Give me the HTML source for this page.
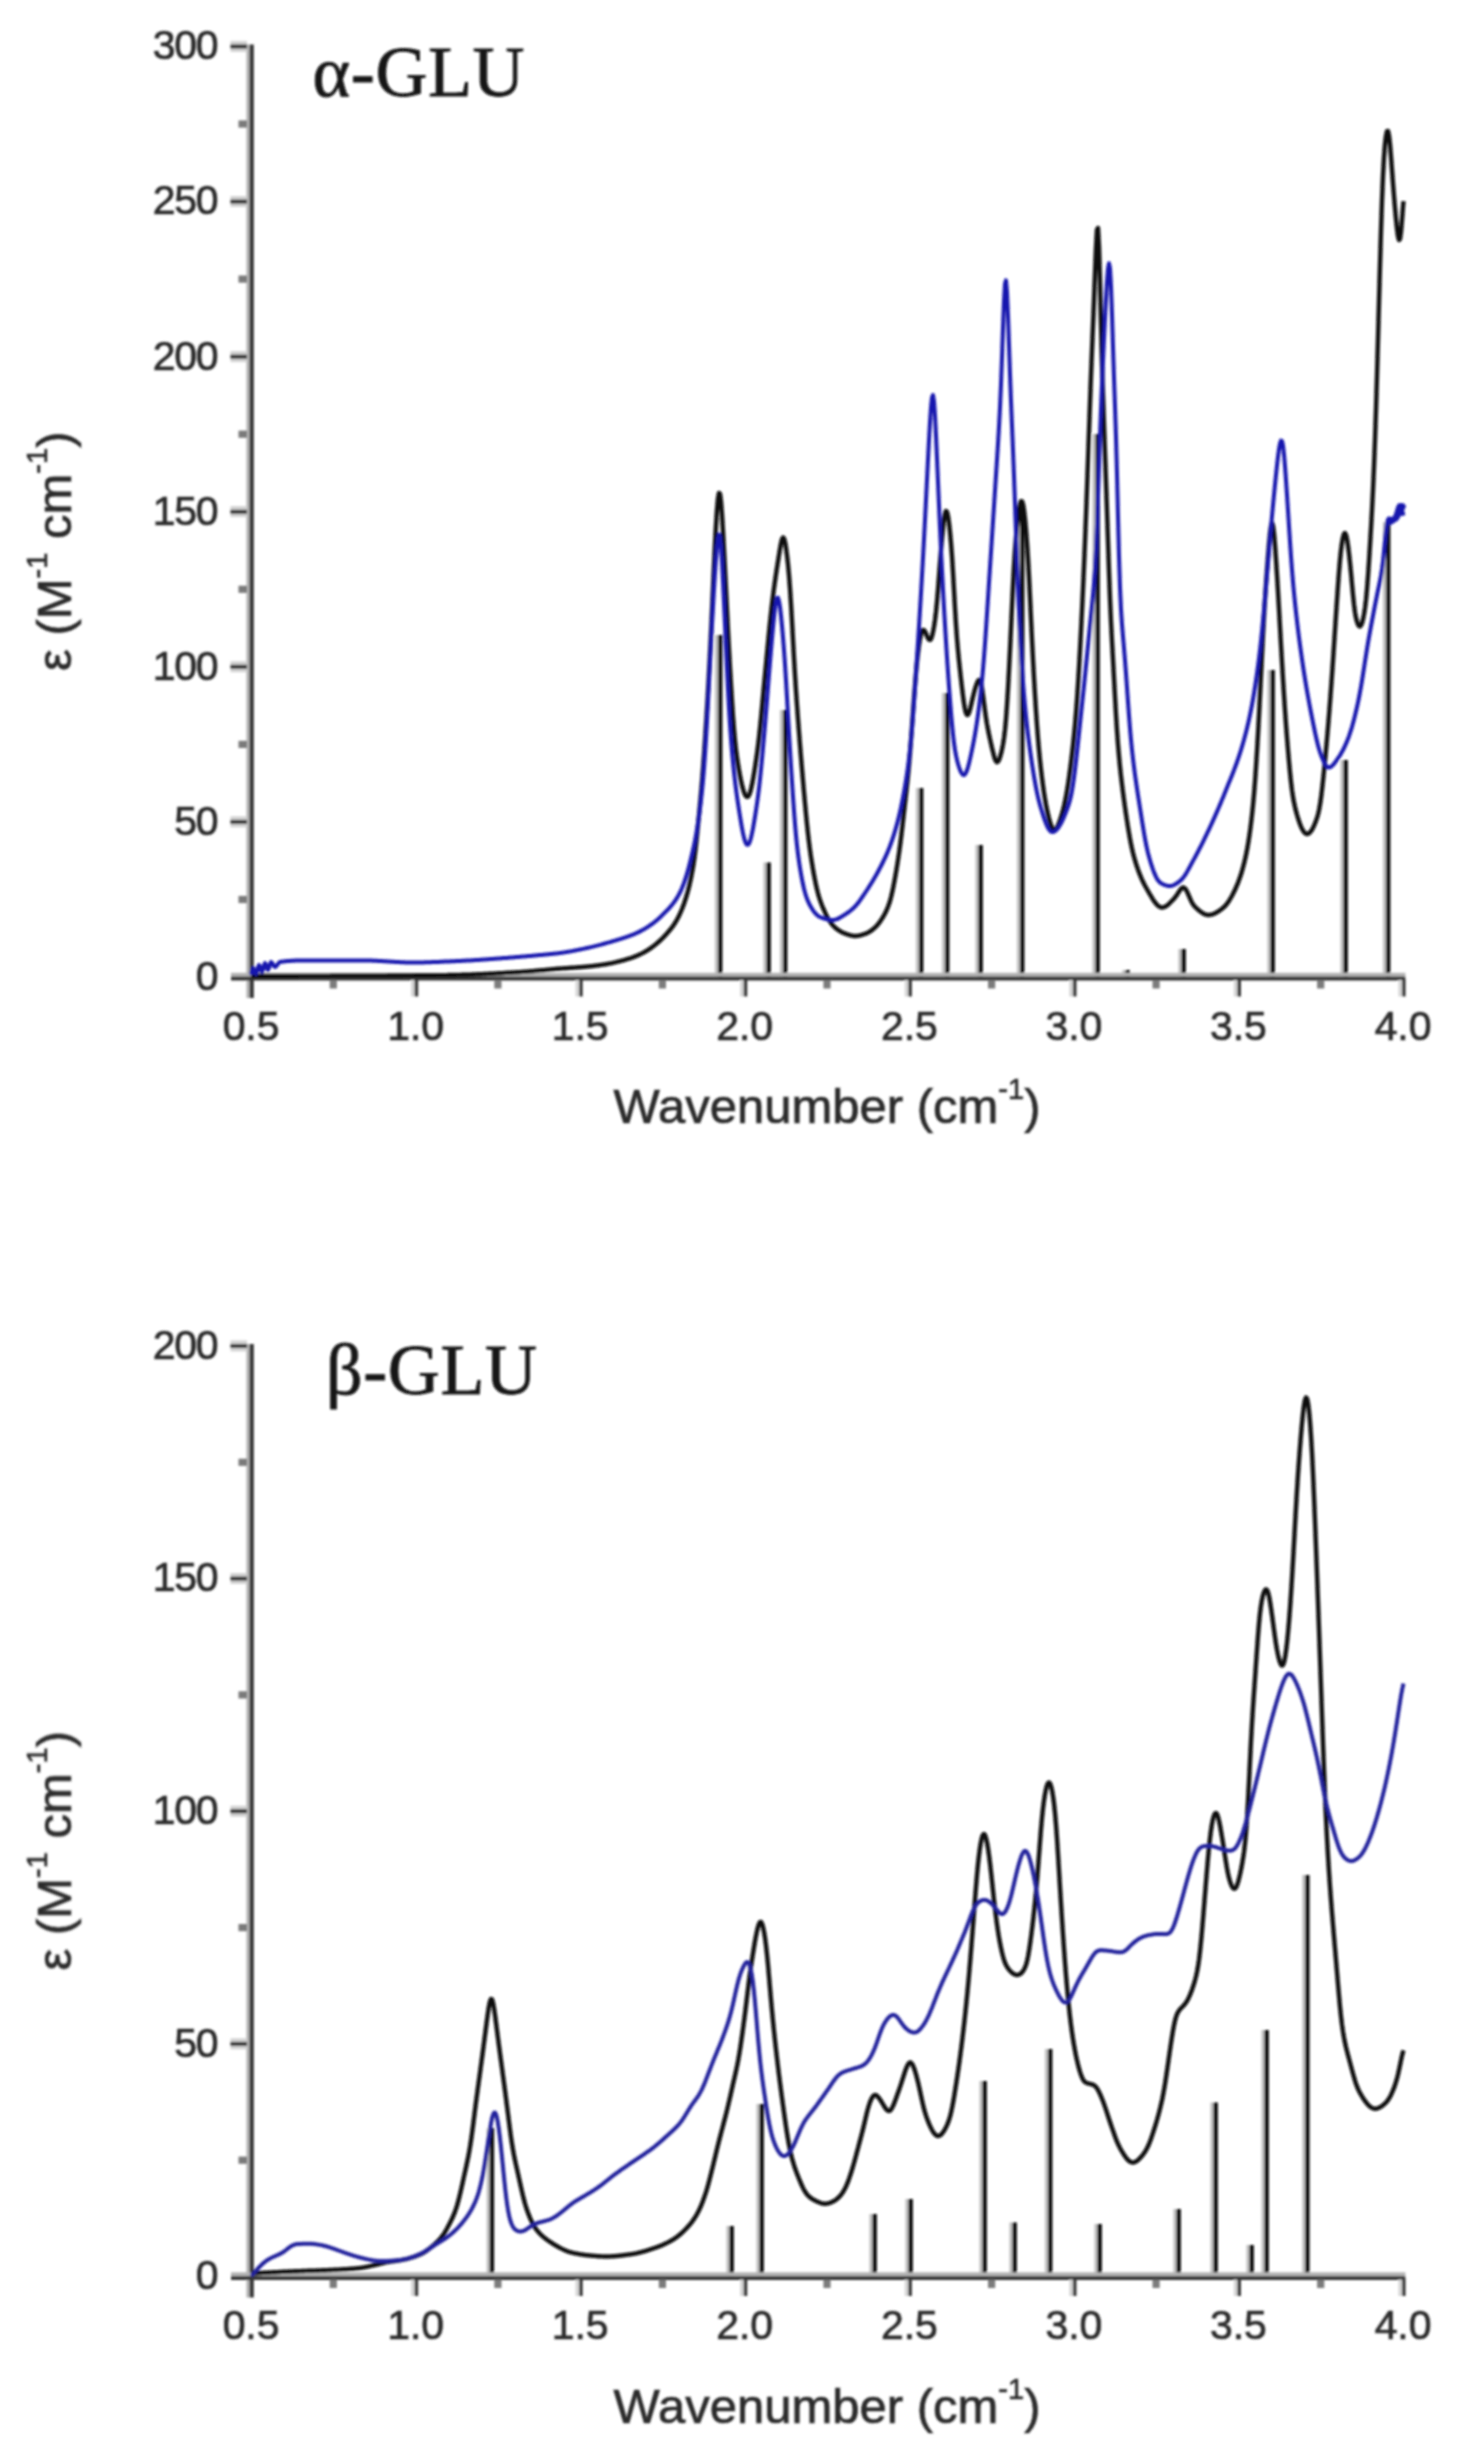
<!DOCTYPE html>
<html lang="en"><head><meta charset="utf-8"><title>GLU spectra</title>
<style>
html,body{margin:0;padding:0;background:#fff;}
svg{display:block;}
.tk{font-family:"Liberation Sans",sans-serif;font-size:41px;fill:#2b2b2b;stroke:#2b2b2b;stroke-width:0.7px;letter-spacing:-1.3px;}
.tkx{letter-spacing:-0.1px;}
.ax{font-family:"Liberation Sans",sans-serif;font-size:49px;fill:#2b2b2b;stroke:#2b2b2b;stroke-width:0.7px;}
.sup{font-size:29px;}
.ttl{font-family:"Liberation Serif",serif;font-size:72px;fill:#141414;stroke:#141414;stroke-width:0.8px;letter-spacing:0.6px;}
</style></head>
<body>
<svg width="1474" height="2458" viewBox="0 0 1474 2458">
<defs><filter id="bl" x="0" y="0" width="1474" height="2458" filterUnits="userSpaceOnUse"><feGaussianBlur stdDeviation="1.0"/></filter></defs>
<rect width="1474" height="2458" fill="#fff"/>
<g filter="url(#bl)">
<rect x="714.9" y="635.0" width="3.2" height="342.0" fill="#c0c0c0"/>
<rect x="718.0" y="635.0" width="4.4" height="342.0" fill="#0c0c0c"/>
<rect x="763.4" y="862.5" width="3.2" height="114.5" fill="#c0c0c0"/>
<rect x="766.5" y="862.5" width="4.4" height="114.5" fill="#0c0c0c"/>
<rect x="779.9" y="710.0" width="3.2" height="267.0" fill="#c0c0c0"/>
<rect x="783.0" y="710.0" width="4.4" height="267.0" fill="#0c0c0c"/>
<rect x="915.9" y="788.0" width="3.2" height="189.0" fill="#c0c0c0"/>
<rect x="919.0" y="788.0" width="4.4" height="189.0" fill="#0c0c0c"/>
<rect x="941.9" y="693.0" width="3.2" height="284.0" fill="#c0c0c0"/>
<rect x="945.0" y="693.0" width="4.4" height="284.0" fill="#0c0c0c"/>
<rect x="975.4" y="845.0" width="3.2" height="132.0" fill="#c0c0c0"/>
<rect x="978.5" y="845.0" width="4.4" height="132.0" fill="#0c0c0c"/>
<rect x="1016.9" y="505.0" width="3.2" height="472.0" fill="#c0c0c0"/>
<rect x="1020.0" y="505.0" width="4.4" height="472.0" fill="#0c0c0c"/>
<rect x="1092.4" y="434.0" width="3.2" height="543.0" fill="#c0c0c0"/>
<rect x="1095.5" y="434.0" width="4.4" height="543.0" fill="#0c0c0c"/>
<rect x="1122.4" y="970.0" width="3.2" height="7.0" fill="#c0c0c0"/>
<rect x="1125.5" y="970.0" width="4.4" height="7.0" fill="#0c0c0c"/>
<rect x="1178.4" y="949.0" width="3.2" height="28.0" fill="#c0c0c0"/>
<rect x="1181.5" y="949.0" width="4.4" height="28.0" fill="#0c0c0c"/>
<rect x="1267.4" y="670.0" width="3.2" height="307.0" fill="#c0c0c0"/>
<rect x="1270.5" y="670.0" width="4.4" height="307.0" fill="#0c0c0c"/>
<rect x="1340.4" y="760.0" width="3.2" height="217.0" fill="#c0c0c0"/>
<rect x="1343.5" y="760.0" width="4.4" height="217.0" fill="#0c0c0c"/>
<rect x="1382.9" y="522.0" width="3.2" height="455.0" fill="#c0c0c0"/>
<rect x="1386.0" y="522.0" width="4.4" height="455.0" fill="#0c0c0c"/>
<rect x="246.4" y="44.5" width="3.4" height="953.5" fill="#b4b4b4"/>
<rect x="249.6" y="44.5" width="4.2" height="953.5" fill="#363636"/>
<rect x="231" y="972.8" width="1174.4" height="4.0" fill="#b2b2b2"/>
<rect x="231" y="976.6" width="1174.4" height="3.9" fill="#363636"/>
<text x="217.2" y="989.8" text-anchor="end" class="tk">0</text>
<rect x="238.5" y="895.9" width="8.5" height="7.2" fill="#7a7a7a"/>
<rect x="230.5" y="816.3" width="16.5" height="11" fill="#d2d2d2"/>
<rect x="230.5" y="819.9" width="16.5" height="4.0" fill="#363636"/>
<text x="217.2" y="834.7" text-anchor="end" class="tk">50</text>
<rect x="238.5" y="740.8" width="8.5" height="7.2" fill="#7a7a7a"/>
<rect x="230.5" y="661.2" width="16.5" height="11" fill="#d2d2d2"/>
<rect x="230.5" y="664.8" width="16.5" height="4.0" fill="#363636"/>
<text x="217.2" y="679.6" text-anchor="end" class="tk">100</text>
<rect x="238.5" y="585.7" width="8.5" height="7.2" fill="#7a7a7a"/>
<rect x="230.5" y="506.1" width="16.5" height="11" fill="#d2d2d2"/>
<rect x="230.5" y="509.8" width="16.5" height="4.0" fill="#363636"/>
<text x="217.2" y="524.5" text-anchor="end" class="tk">150</text>
<rect x="238.5" y="430.6" width="8.5" height="7.2" fill="#7a7a7a"/>
<rect x="230.5" y="351.1" width="16.5" height="11" fill="#d2d2d2"/>
<rect x="230.5" y="354.7" width="16.5" height="4.0" fill="#363636"/>
<text x="217.2" y="369.5" text-anchor="end" class="tk">200</text>
<rect x="238.5" y="275.5" width="8.5" height="7.2" fill="#7a7a7a"/>
<rect x="230.5" y="196.0" width="16.5" height="11" fill="#d2d2d2"/>
<rect x="230.5" y="199.6" width="16.5" height="4.0" fill="#363636"/>
<text x="217.2" y="214.4" text-anchor="end" class="tk">250</text>
<rect x="238.5" y="120.4" width="8.5" height="7.2" fill="#7a7a7a"/>
<rect x="230.5" y="40.9" width="16.5" height="11" fill="#d2d2d2"/>
<rect x="230.5" y="44.5" width="16.5" height="4.0" fill="#363636"/>
<text x="217.2" y="59.3" text-anchor="end" class="tk">300</text>
<text x="251.0" y="1039.5" text-anchor="middle" class="tk tkx">0.5</text>
<rect x="329.7" y="980.0" width="7.2" height="8.5" fill="#7c7c7c"/>
<rect x="411.0" y="980.0" width="3.6" height="16.5" fill="#d6d6d6"/>
<rect x="414.6" y="980.0" width="3.6" height="16.5" fill="#3a3a3a"/>
<text x="415.6" y="1039.5" text-anchor="middle" class="tk tkx">1.0</text>
<rect x="494.3" y="980.0" width="7.2" height="8.5" fill="#7c7c7c"/>
<rect x="575.5" y="980.0" width="3.6" height="16.5" fill="#d6d6d6"/>
<rect x="579.1" y="980.0" width="3.6" height="16.5" fill="#3a3a3a"/>
<text x="580.1" y="1039.5" text-anchor="middle" class="tk tkx">1.5</text>
<rect x="658.8" y="980.0" width="7.2" height="8.5" fill="#7c7c7c"/>
<rect x="740.1" y="980.0" width="3.6" height="16.5" fill="#d6d6d6"/>
<rect x="743.7" y="980.0" width="3.6" height="16.5" fill="#3a3a3a"/>
<text x="744.7" y="1039.5" text-anchor="middle" class="tk tkx">2.0</text>
<rect x="823.4" y="980.0" width="7.2" height="8.5" fill="#7c7c7c"/>
<rect x="904.7" y="980.0" width="3.6" height="16.5" fill="#d6d6d6"/>
<rect x="908.3" y="980.0" width="3.6" height="16.5" fill="#3a3a3a"/>
<text x="909.3" y="1039.5" text-anchor="middle" class="tk tkx">2.5</text>
<rect x="988.0" y="980.0" width="7.2" height="8.5" fill="#7c7c7c"/>
<rect x="1069.3" y="980.0" width="3.6" height="16.5" fill="#d6d6d6"/>
<rect x="1072.9" y="980.0" width="3.6" height="16.5" fill="#3a3a3a"/>
<text x="1073.9" y="1039.5" text-anchor="middle" class="tk tkx">3.0</text>
<rect x="1152.5" y="980.0" width="7.2" height="8.5" fill="#7c7c7c"/>
<rect x="1233.8" y="980.0" width="3.6" height="16.5" fill="#d6d6d6"/>
<rect x="1237.4" y="980.0" width="3.6" height="16.5" fill="#3a3a3a"/>
<text x="1238.4" y="1039.5" text-anchor="middle" class="tk tkx">3.5</text>
<rect x="1317.1" y="980.0" width="7.2" height="8.5" fill="#7c7c7c"/>
<rect x="1398.4" y="980.0" width="3.6" height="16.5" fill="#d6d6d6"/>
<rect x="1402.0" y="980.0" width="3.6" height="16.5" fill="#3a3a3a"/>
<text x="1403.0" y="1039.5" text-anchor="middle" class="tk tkx">4.0</text>
<path d="M251.0,976.0 L252.0,976.0 L253.0,976.0 L254.0,976.0 L255.0,976.0 L256.0,976.0 L257.0,976.0 L258.0,976.0 L259.0,976.0 L260.0,976.0 L261.0,976.0 L262.0,976.0 L263.0,976.0 L264.0,976.0 L265.0,976.0 L266.0,976.0 L267.0,976.0 L268.0,976.0 L269.0,976.0 L270.0,976.0 L271.0,976.0 L272.0,976.0 L273.0,976.0 L274.0,976.0 L275.0,976.0 L276.0,976.0 L277.0,976.0 L278.0,976.0 L279.0,976.0 L280.0,976.0 L281.0,976.0 L282.0,976.0 L283.0,976.0 L284.0,976.0 L285.0,976.0 L286.0,976.0 L287.0,976.0 L288.0,976.0 L289.0,976.0 L290.0,976.0 L291.0,976.0 L292.0,976.0 L293.0,976.0 L294.0,976.0 L295.0,976.0 L296.0,976.0 L297.0,976.0 L298.0,975.9 L299.0,975.9 L300.0,975.9 L301.0,975.9 L302.0,975.9 L303.0,975.9 L304.0,975.9 L305.0,975.9 L306.0,975.9 L307.0,975.9 L308.0,975.9 L309.0,975.9 L310.0,975.9 L311.0,975.9 L312.0,975.9 L313.0,975.9 L314.0,975.9 L315.0,975.9 L316.0,975.9 L317.0,975.9 L318.0,975.9 L319.0,975.9 L320.0,975.9 L321.0,975.9 L322.0,975.9 L323.0,975.9 L324.0,975.9 L325.0,975.9 L326.0,975.9 L327.0,975.9 L328.0,975.9 L329.0,975.9 L330.0,975.9 L331.0,975.8 L332.0,975.8 L333.0,975.8 L334.0,975.8 L335.0,975.8 L336.0,975.8 L337.0,975.8 L338.0,975.8 L339.0,975.8 L340.0,975.8 L341.0,975.8 L342.0,975.8 L343.0,975.8 L344.0,975.8 L345.0,975.8 L346.0,975.8 L347.0,975.8 L348.0,975.8 L349.0,975.8 L350.0,975.8 L351.0,975.8 L352.0,975.8 L353.0,975.8 L354.0,975.7 L355.0,975.7 L356.0,975.7 L357.0,975.7 L358.0,975.7 L359.0,975.7 L360.0,975.7 L361.0,975.7 L362.0,975.7 L363.0,975.7 L364.0,975.7 L365.0,975.7 L366.0,975.7 L367.0,975.7 L368.0,975.7 L369.0,975.7 L370.0,975.7 L371.0,975.7 L372.0,975.6 L373.0,975.6 L374.0,975.6 L375.0,975.6 L376.0,975.6 L377.0,975.6 L378.0,975.6 L379.0,975.6 L380.0,975.6 L381.0,975.6 L382.0,975.6 L383.0,975.6 L384.0,975.6 L385.0,975.6 L386.0,975.6 L387.0,975.6 L388.0,975.5 L389.0,975.5 L390.0,975.5 L391.0,975.5 L392.0,975.5 L393.0,975.5 L394.0,975.5 L395.0,975.5 L396.0,975.5 L397.0,975.5 L398.0,975.5 L399.0,975.5 L400.0,975.5 L401.0,975.5 L402.0,975.4 L403.0,975.4 L404.0,975.4 L405.0,975.4 L406.0,975.4 L407.0,975.4 L408.0,975.4 L409.0,975.4 L410.0,975.4 L411.0,975.4 L412.0,975.4 L413.0,975.4 L414.0,975.4 L415.0,975.3 L416.0,975.3 L417.0,975.3 L418.0,975.3 L419.0,975.3 L420.0,975.3 L421.0,975.3 L422.0,975.3 L423.0,975.3 L424.0,975.3 L425.0,975.3 L426.0,975.2 L427.0,975.2 L428.0,975.2 L429.0,975.2 L430.0,975.2 L431.0,975.2 L432.0,975.2 L433.0,975.2 L434.0,975.2 L435.0,975.2 L436.0,975.2 L437.0,975.1 L438.0,975.1 L439.0,975.1 L440.0,975.1 L441.0,975.1 L442.0,975.1 L443.0,975.1 L444.0,975.1 L445.0,975.1 L446.0,975.1 L447.0,975.1 L448.0,975.0 L449.0,975.0 L450.0,975.0 L451.0,975.0 L452.0,975.0 L453.0,975.0 L454.0,975.0 L455.0,975.0 L456.0,974.9 L457.0,974.9 L458.0,974.9 L459.0,974.9 L460.0,974.9 L461.0,974.9 L462.0,974.8 L463.0,974.8 L464.0,974.8 L465.0,974.8 L466.0,974.7 L467.0,974.7 L468.0,974.7 L469.0,974.6 L470.0,974.6 L471.0,974.6 L472.0,974.5 L473.0,974.5 L474.0,974.5 L475.0,974.4 L476.0,974.4 L477.0,974.3 L478.0,974.3 L479.0,974.3 L480.0,974.2 L481.0,974.2 L482.0,974.1 L483.0,974.1 L484.0,974.0 L485.0,974.0 L486.0,974.0 L487.0,973.9 L488.0,973.9 L489.0,973.8 L490.0,973.8 L491.0,973.7 L492.0,973.7 L493.0,973.6 L494.0,973.6 L495.0,973.5 L496.0,973.4 L497.0,973.4 L498.0,973.3 L499.0,973.3 L500.0,973.2 L501.0,973.2 L502.0,973.1 L503.0,973.1 L504.0,973.0 L505.0,972.9 L506.0,972.9 L507.0,972.8 L508.0,972.8 L509.0,972.7 L510.0,972.7 L511.0,972.6 L512.0,972.5 L513.0,972.5 L514.0,972.4 L515.0,972.4 L516.0,972.3 L517.0,972.2 L518.0,972.2 L519.0,972.1 L520.0,972.1 L521.0,972.0 L522.0,971.9 L523.0,971.9 L524.0,971.8 L525.0,971.7 L526.0,971.7 L527.0,971.6 L528.0,971.5 L529.0,971.4 L530.0,971.3 L531.0,971.3 L532.0,971.2 L533.0,971.1 L534.0,971.0 L535.0,970.9 L536.0,970.8 L537.0,970.7 L538.0,970.6 L539.0,970.5 L540.0,970.4 L541.0,970.3 L542.0,970.3 L543.0,970.2 L544.0,970.1 L545.0,970.0 L546.0,969.9 L547.0,969.8 L548.0,969.7 L549.0,969.6 L550.0,969.5 L551.0,969.4 L552.0,969.3 L553.0,969.2 L554.0,969.1 L555.0,969.0 L556.0,968.9 L557.0,968.8 L558.0,968.8 L559.0,968.7 L560.0,968.6 L561.0,968.5 L562.0,968.4 L563.0,968.4 L564.0,968.3 L565.0,968.2 L566.0,968.2 L567.0,968.1 L568.0,968.0 L569.0,968.0 L570.0,967.9 L571.0,967.8 L572.0,967.8 L573.0,967.7 L574.0,967.6 L575.0,967.6 L576.0,967.5 L577.0,967.4 L578.0,967.3 L579.0,967.3 L580.0,967.2 L581.0,967.1 L582.0,967.0 L583.0,967.0 L584.0,966.9 L585.0,966.8 L586.0,966.7 L587.0,966.6 L588.0,966.5 L589.0,966.4 L590.0,966.3 L591.0,966.2 L592.0,966.1 L593.0,966.0 L594.0,965.8 L595.0,965.7 L596.0,965.6 L597.0,965.5 L598.0,965.3 L599.0,965.2 L600.0,965.1 L601.0,964.9 L602.0,964.8 L603.0,964.6 L604.0,964.5 L605.0,964.3 L606.0,964.2 L607.0,964.0 L608.0,963.8 L609.0,963.6 L610.0,963.4 L611.0,963.3 L612.0,963.1 L613.0,962.8 L614.0,962.6 L615.0,962.4 L616.0,962.2 L617.0,961.9 L618.0,961.7 L619.0,961.5 L620.0,961.2 L621.0,960.9 L622.0,960.7 L623.0,960.4 L624.0,960.1 L625.0,959.8 L626.0,959.5 L627.0,959.2 L628.0,958.9 L629.0,958.6 L630.0,958.3 L631.0,958.0 L632.0,957.6 L633.0,957.3 L634.0,956.9 L635.0,956.5 L636.0,956.1 L637.0,955.7 L638.0,955.3 L639.0,954.8 L640.0,954.4 L641.0,953.9 L642.0,953.4 L643.0,952.9 L644.0,952.3 L645.0,951.8 L646.0,951.2 L647.0,950.6 L648.0,949.9 L649.0,949.3 L650.0,948.6 L651.0,947.9 L652.0,947.2 L653.0,946.4 L654.0,945.7 L655.0,944.9 L656.0,944.1 L657.0,943.3 L658.0,942.4 L659.0,941.5 L660.0,940.6 L661.0,939.6 L662.0,938.7 L663.0,937.7 L664.0,936.6 L665.0,935.6 L666.0,934.5 L667.0,933.4 L668.0,932.2 L669.0,931.1 L670.0,929.9 L671.0,928.6 L672.0,927.3 L673.0,926.0 L674.0,924.5 L675.0,923.0 L676.0,921.3 L677.0,919.6 L678.0,917.7 L679.0,915.7 L680.0,913.6 L681.0,911.4 L682.0,909.0 L683.0,906.4 L684.0,903.7 L685.0,900.8 L686.0,897.7 L687.0,894.3 L688.0,890.8 L689.0,886.9 L690.0,882.6 L691.0,878.0 L692.0,872.9 L693.0,867.3 L694.0,860.9 L695.0,853.5 L696.0,844.9 L697.0,835.3 L698.0,825.1 L699.0,814.8 L700.0,804.3 L701.0,793.5 L702.0,781.8 L703.0,769.0 L704.0,755.3 L705.0,740.6 L706.0,725.0 L707.0,708.6 L708.0,691.2 L709.0,672.7 L710.0,653.1 L711.0,632.5 L712.0,610.9 L713.0,588.5 L714.0,565.9 L715.0,544.4 L716.0,525.4 L717.0,509.7 L718.0,498.5 L719.0,492.9 L720.0,493.8 L721.0,501.5 L722.0,514.6 L723.0,531.3 L724.0,550.0 L725.0,569.8 L726.0,590.2 L727.0,610.7 L728.0,630.8 L729.0,649.9 L730.0,668.1 L731.0,685.2 L732.0,701.4 L733.0,716.3 L734.0,729.5 L735.0,740.7 L736.0,749.9 L737.0,757.6 L738.0,764.2 L739.0,770.2 L740.0,775.7 L741.0,780.6 L742.0,785.1 L743.0,788.9 L744.0,792.2 L745.0,794.6 L746.0,796.3 L747.0,797.0 L748.0,796.7 L749.0,795.3 L750.0,792.7 L751.0,789.1 L752.0,784.6 L753.0,779.4 L754.0,773.5 L755.0,767.3 L756.0,760.7 L757.0,753.7 L758.0,746.1 L759.0,737.7 L760.0,728.3 L761.0,718.2 L762.0,707.5 L763.0,696.6 L764.0,685.8 L765.0,675.0 L766.0,664.4 L767.0,653.8 L768.0,643.2 L769.0,632.8 L770.0,622.8 L771.0,613.2 L772.0,604.3 L773.0,596.0 L774.0,588.3 L775.0,581.1 L776.0,574.3 L777.0,567.7 L778.0,561.3 L779.0,555.0 L780.0,548.8 L781.0,543.3 L782.0,539.2 L783.0,537.5 L784.0,538.4 L785.0,542.0 L786.0,547.7 L787.0,555.2 L788.0,564.3 L789.0,575.2 L790.0,588.4 L791.0,603.9 L792.0,621.4 L793.0,639.8 L794.0,657.9 L795.0,674.9 L796.0,690.6 L797.0,705.2 L798.0,719.0 L799.0,732.2 L800.0,744.9 L801.0,757.2 L802.0,769.2 L803.0,780.8 L804.0,792.2 L805.0,803.3 L806.0,814.1 L807.0,824.2 L808.0,833.7 L809.0,842.2 L810.0,850.0 L811.0,857.0 L812.0,863.4 L813.0,869.4 L814.0,875.0 L815.0,880.2 L816.0,885.0 L817.0,889.4 L818.0,893.3 L819.0,896.8 L820.0,900.0 L821.0,902.8 L822.0,905.5 L823.0,907.9 L824.0,910.2 L825.0,912.4 L826.0,914.5 L827.0,916.4 L828.0,918.3 L829.0,920.0 L830.0,921.5 L831.0,923.0 L832.0,924.3 L833.0,925.5 L834.0,926.5 L835.0,927.5 L836.0,928.4 L837.0,929.1 L838.0,929.9 L839.0,930.5 L840.0,931.1 L841.0,931.7 L842.0,932.2 L843.0,932.7 L844.0,933.1 L845.0,933.5 L846.0,933.9 L847.0,934.2 L848.0,934.6 L849.0,934.9 L850.0,935.2 L851.0,935.5 L852.0,935.7 L853.0,935.9 L854.0,936.0 L855.0,936.0 L856.0,936.0 L857.0,935.9 L858.0,935.8 L859.0,935.6 L860.0,935.4 L861.0,935.1 L862.0,934.8 L863.0,934.5 L864.0,934.2 L865.0,933.9 L866.0,933.5 L867.0,933.1 L868.0,932.6 L869.0,932.0 L870.0,931.4 L871.0,930.8 L872.0,930.0 L873.0,929.2 L874.0,928.4 L875.0,927.5 L876.0,926.5 L877.0,925.4 L878.0,924.3 L879.0,923.0 L880.0,921.6 L881.0,920.2 L882.0,918.6 L883.0,917.0 L884.0,915.3 L885.0,913.4 L886.0,911.4 L887.0,909.3 L888.0,906.8 L889.0,904.1 L890.0,901.0 L891.0,897.3 L892.0,893.1 L893.0,888.5 L894.0,883.4 L895.0,878.0 L896.0,872.3 L897.0,866.4 L898.0,860.0 L899.0,853.2 L900.0,845.9 L901.0,838.1 L902.0,829.7 L903.0,820.9 L904.0,812.0 L905.0,803.1 L906.0,794.2 L907.0,785.1 L908.0,775.5 L909.0,764.9 L910.0,753.0 L911.0,739.8 L912.0,725.9 L913.0,711.8 L914.0,698.0 L915.0,685.1 L916.0,673.1 L917.0,662.3 L918.0,652.9 L919.0,645.1 L920.0,639.0 L921.0,634.4 L922.0,631.4 L923.0,630.0 L924.0,630.1 L925.0,631.5 L926.0,633.7 L927.0,636.1 L928.0,638.3 L929.0,639.7 L930.0,640.0 L931.0,638.9 L932.0,636.2 L933.0,632.1 L934.0,626.7 L935.0,620.1 L936.0,611.8 L937.0,601.6 L938.0,589.6 L939.0,576.3 L940.0,562.9 L941.0,550.1 L942.0,538.4 L943.0,528.0 L944.0,519.5 L945.0,513.6 L946.0,511.0 L947.0,511.9 L948.0,516.1 L949.0,522.9 L950.0,531.9 L951.0,543.0 L952.0,556.4 L953.0,572.3 L954.0,590.1 L955.0,608.1 L956.0,624.5 L957.0,638.6 L958.0,650.4 L959.0,660.7 L960.0,670.1 L961.0,679.1 L962.0,687.8 L963.0,696.1 L964.0,703.4 L965.0,709.2 L966.0,713.2 L967.0,715.0 L968.0,714.8 L969.0,712.8 L970.0,709.5 L971.0,705.5 L972.0,701.1 L973.0,696.7 L974.0,692.7 L975.0,689.0 L976.0,685.8 L977.0,683.1 L978.0,680.9 L979.0,679.9 L980.0,680.5 L981.0,683.3 L982.0,688.4 L983.0,695.3 L984.0,703.1 L985.0,710.8 L986.0,717.9 L987.0,724.1 L988.0,729.5 L989.0,734.5 L990.0,739.1 L991.0,743.6 L992.0,747.9 L993.0,752.1 L994.0,756.0 L995.0,759.3 L996.0,761.4 L997.0,762.2 L998.0,761.6 L999.0,759.9 L1000.0,757.2 L1001.0,753.7 L1002.0,749.4 L1003.0,744.3 L1004.0,738.0 L1005.0,729.8 L1006.0,719.1 L1007.0,705.2 L1008.0,688.7 L1009.0,670.0 L1010.0,649.9 L1011.0,628.6 L1012.0,606.7 L1013.0,585.5 L1014.0,566.4 L1015.0,550.3 L1016.0,537.0 L1017.0,526.1 L1018.0,516.9 L1019.0,509.5 L1020.0,504.1 L1021.0,501.2 L1022.0,501.2 L1023.0,504.2 L1024.0,510.2 L1025.0,518.8 L1026.0,529.7 L1027.0,542.8 L1028.0,558.4 L1029.0,576.7 L1030.0,597.2 L1031.0,618.7 L1032.0,639.7 L1033.0,659.5 L1034.0,677.9 L1035.0,694.9 L1036.0,710.8 L1037.0,725.3 L1038.0,738.4 L1039.0,750.0 L1040.0,760.2 L1041.0,769.5 L1042.0,777.9 L1043.0,785.6 L1044.0,792.7 L1045.0,799.0 L1046.0,804.7 L1047.0,809.7 L1048.0,814.2 L1049.0,818.3 L1050.0,821.9 L1051.0,825.1 L1052.0,827.6 L1053.0,829.2 L1054.0,830.0 L1055.0,829.9 L1056.0,829.0 L1057.0,827.4 L1058.0,825.4 L1059.0,822.9 L1060.0,820.1 L1061.0,817.0 L1062.0,813.7 L1063.0,810.1 L1064.0,806.1 L1065.0,801.6 L1066.0,796.5 L1067.0,790.8 L1068.0,784.6 L1069.0,777.8 L1070.0,770.4 L1071.0,762.5 L1072.0,754.1 L1073.0,745.2 L1074.0,735.5 L1075.0,724.9 L1076.0,713.0 L1077.0,699.6 L1078.0,684.4 L1079.0,667.8 L1080.0,649.8 L1081.0,630.7 L1082.0,610.5 L1083.0,589.1 L1084.0,566.2 L1085.0,541.8 L1086.0,515.9 L1087.0,488.7 L1088.0,460.5 L1089.0,431.5 L1090.0,403.0 L1091.0,375.7 L1092.0,350.1 L1093.0,325.5 L1094.0,300.3 L1095.0,273.6 L1096.0,247.8 L1097.0,229.7 L1098.0,228.0 L1099.0,246.9 L1100.0,281.8 L1101.0,322.9 L1102.0,361.6 L1103.0,395.4 L1104.0,425.3 L1105.0,453.4 L1106.0,481.5 L1107.0,510.8 L1108.0,541.2 L1109.0,571.3 L1110.0,598.5 L1111.0,621.5 L1112.0,641.3 L1113.0,659.7 L1114.0,678.2 L1115.0,696.7 L1116.0,714.5 L1117.0,730.5 L1118.0,744.4 L1119.0,756.3 L1120.0,766.8 L1121.0,776.1 L1122.0,784.6 L1123.0,792.5 L1124.0,800.0 L1125.0,807.2 L1126.0,814.1 L1127.0,820.8 L1128.0,827.1 L1129.0,833.2 L1130.0,838.8 L1131.0,844.0 L1132.0,848.7 L1133.0,853.0 L1134.0,856.9 L1135.0,860.4 L1136.0,863.7 L1137.0,866.7 L1138.0,869.6 L1139.0,872.4 L1140.0,874.9 L1141.0,877.3 L1142.0,879.6 L1143.0,881.7 L1144.0,883.8 L1145.0,885.7 L1146.0,887.5 L1147.0,889.3 L1148.0,891.0 L1149.0,892.8 L1150.0,894.5 L1151.0,896.2 L1152.0,897.9 L1153.0,899.5 L1154.0,901.0 L1155.0,902.3 L1156.0,903.6 L1157.0,904.7 L1158.0,905.7 L1159.0,906.4 L1160.0,907.0 L1161.0,907.4 L1162.0,907.5 L1163.0,907.4 L1164.0,907.2 L1165.0,906.8 L1166.0,906.2 L1167.0,905.5 L1168.0,904.7 L1169.0,903.8 L1170.0,902.8 L1171.0,901.8 L1172.0,900.8 L1173.0,899.7 L1174.0,898.7 L1175.0,897.5 L1176.0,896.2 L1177.0,894.8 L1178.0,893.2 L1179.0,891.6 L1180.0,890.2 L1181.0,888.9 L1182.0,888.0 L1183.0,887.5 L1184.0,887.6 L1185.0,888.4 L1186.0,889.7 L1187.0,891.6 L1188.0,893.7 L1189.0,896.1 L1190.0,898.4 L1191.0,900.7 L1192.0,902.6 L1193.0,904.3 L1194.0,905.6 L1195.0,906.8 L1196.0,907.8 L1197.0,908.7 L1198.0,909.6 L1199.0,910.5 L1200.0,911.3 L1201.0,912.0 L1202.0,912.7 L1203.0,913.3 L1204.0,913.9 L1205.0,914.3 L1206.0,914.6 L1207.0,914.9 L1208.0,915.0 L1209.0,915.0 L1210.0,914.9 L1211.0,914.7 L1212.0,914.5 L1213.0,914.2 L1214.0,913.8 L1215.0,913.3 L1216.0,912.8 L1217.0,912.2 L1218.0,911.6 L1219.0,910.9 L1220.0,910.2 L1221.0,909.5 L1222.0,908.7 L1223.0,907.9 L1224.0,907.0 L1225.0,906.1 L1226.0,905.0 L1227.0,903.7 L1228.0,902.4 L1229.0,900.8 L1230.0,899.2 L1231.0,897.5 L1232.0,895.7 L1233.0,893.8 L1234.0,891.8 L1235.0,889.7 L1236.0,887.5 L1237.0,885.2 L1238.0,882.8 L1239.0,880.1 L1240.0,877.3 L1241.0,874.3 L1242.0,871.0 L1243.0,867.4 L1244.0,863.6 L1245.0,859.5 L1246.0,855.0 L1247.0,850.0 L1248.0,844.4 L1249.0,838.1 L1250.0,831.2 L1251.0,823.5 L1252.0,814.9 L1253.0,805.3 L1254.0,794.2 L1255.0,781.6 L1256.0,767.2 L1257.0,751.3 L1258.0,734.0 L1259.0,715.4 L1260.0,695.4 L1261.0,674.8 L1262.0,654.2 L1263.0,634.5 L1264.0,616.3 L1265.0,599.5 L1266.0,584.1 L1267.0,569.7 L1268.0,556.3 L1269.0,543.9 L1270.0,533.3 L1271.0,525.8 L1272.0,523.0 L1273.0,525.7 L1274.0,533.5 L1275.0,545.2 L1276.0,559.4 L1277.0,575.0 L1278.0,591.7 L1279.0,609.1 L1280.0,627.1 L1281.0,645.0 L1282.0,662.4 L1283.0,679.1 L1284.0,695.1 L1285.0,710.1 L1286.0,724.3 L1287.0,737.5 L1288.0,749.9 L1289.0,761.5 L1290.0,772.2 L1291.0,781.9 L1292.0,790.2 L1293.0,797.0 L1294.0,802.6 L1295.0,807.1 L1296.0,811.1 L1297.0,814.8 L1298.0,818.1 L1299.0,821.2 L1300.0,824.1 L1301.0,826.6 L1302.0,828.7 L1303.0,830.6 L1304.0,832.0 L1305.0,833.1 L1306.0,833.8 L1307.0,834.0 L1308.0,833.8 L1309.0,833.3 L1310.0,832.4 L1311.0,831.2 L1312.0,829.7 L1313.0,827.8 L1314.0,825.7 L1315.0,823.4 L1316.0,820.8 L1317.0,817.9 L1318.0,814.5 L1319.0,810.2 L1320.0,804.7 L1321.0,797.9 L1322.0,789.8 L1323.0,780.7 L1324.0,770.9 L1325.0,760.6 L1326.0,750.0 L1327.0,738.9 L1328.0,727.3 L1329.0,715.1 L1330.0,702.3 L1331.0,688.9 L1332.0,675.0 L1333.0,660.5 L1334.0,645.5 L1335.0,630.2 L1336.0,615.0 L1337.0,600.0 L1338.0,585.5 L1339.0,571.9 L1340.0,560.0 L1341.0,550.2 L1342.0,542.6 L1343.0,537.1 L1344.0,533.8 L1345.0,533.0 L1346.0,534.8 L1347.0,539.1 L1348.0,545.5 L1349.0,553.5 L1350.0,562.7 L1351.0,573.0 L1352.0,584.1 L1353.0,595.0 L1354.0,604.6 L1355.0,612.3 L1356.0,617.9 L1357.0,621.8 L1358.0,624.6 L1359.0,626.2 L1360.0,626.5 L1361.0,625.5 L1362.0,623.1 L1363.0,619.4 L1364.0,614.4 L1365.0,608.0 L1366.0,599.7 L1367.0,589.1 L1368.0,576.1 L1369.0,561.3 L1370.0,545.2 L1371.0,528.3 L1372.0,510.1 L1373.0,489.8 L1374.0,466.6 L1375.0,440.0 L1376.0,409.7 L1377.0,375.8 L1378.0,339.3 L1379.0,301.8 L1380.0,265.0 L1381.0,230.6 L1382.0,200.3 L1383.0,175.6 L1384.0,157.1 L1385.0,144.2 L1386.0,135.7 L1387.0,131.2 L1388.0,131.0 L1389.0,135.4 L1390.0,144.3 L1391.0,156.4 L1392.0,170.0 L1393.0,183.5 L1394.0,196.2 L1395.0,208.0 L1396.0,219.0 L1397.0,228.6 L1398.0,236.1 L1399.0,240.0 L1400.0,238.9 L1401.0,231.9 L1402.0,220.1 L1403.0,206.9 L1403.5,201.1" fill="none" stroke="#0a0a0a" stroke-width="4.4" stroke-linejoin="round" stroke-linecap="butt"/>
<path d="M251.0,975.0 L252.0,970.1 L253.0,968.0 L254.0,969.6 L255.0,972.4 L256.0,974.0 L257.0,971.7 L258.0,967.3 L259.0,965.0 L260.0,966.8 L261.0,970.2 L262.0,972.0 L263.0,969.7 L264.0,965.3 L265.0,963.0 L266.0,964.8 L267.0,968.2 L268.0,970.0 L269.0,967.9 L270.0,964.1 L271.0,962.0 L272.0,962.8 L273.0,964.5 L274.0,966.2 L275.0,967.0 L276.0,966.5 L277.0,965.3 L278.0,963.9 L279.0,962.6 L280.0,962.0 L281.0,961.8 L282.0,961.7 L283.0,961.6 L284.0,961.4 L285.0,961.3 L286.0,961.2 L287.0,961.1 L288.0,961.1 L289.0,961.0 L290.0,960.9 L291.0,960.8 L292.0,960.8 L293.0,960.7 L294.0,960.7 L295.0,960.6 L296.0,960.6 L297.0,960.6 L298.0,960.5 L299.0,960.5 L300.0,960.5 L301.0,960.5 L302.0,960.5 L303.0,960.5 L304.0,960.5 L305.0,960.5 L306.0,960.5 L307.0,960.5 L308.0,960.5 L309.0,960.5 L310.0,960.5 L311.0,960.5 L312.0,960.5 L313.0,960.5 L314.0,960.5 L315.0,960.5 L316.0,960.5 L317.0,960.5 L318.0,960.5 L319.0,960.5 L320.0,960.5 L321.0,960.5 L322.0,960.5 L323.0,960.5 L324.0,960.5 L325.0,960.5 L326.0,960.5 L327.0,960.5 L328.0,960.5 L329.0,960.5 L330.0,960.5 L331.0,960.5 L332.0,960.5 L333.0,960.5 L334.0,960.5 L335.0,960.5 L336.0,960.5 L337.0,960.5 L338.0,960.5 L339.0,960.5 L340.0,960.5 L341.0,960.5 L342.0,960.5 L343.0,960.5 L344.0,960.5 L345.0,960.5 L346.0,960.5 L347.0,960.5 L348.0,960.5 L349.0,960.5 L350.0,960.5 L351.0,960.5 L352.0,960.5 L353.0,960.5 L354.0,960.5 L355.0,960.5 L356.0,960.5 L357.0,960.5 L358.0,960.5 L359.0,960.5 L360.0,960.5 L361.0,960.5 L362.0,960.5 L363.0,960.5 L364.0,960.5 L365.0,960.5 L366.0,960.5 L367.0,960.5 L368.0,960.5 L369.0,960.5 L370.0,960.6 L371.0,960.6 L372.0,960.6 L373.0,960.7 L374.0,960.7 L375.0,960.7 L376.0,960.8 L377.0,960.8 L378.0,960.9 L379.0,960.9 L380.0,961.0 L381.0,961.0 L382.0,961.1 L383.0,961.2 L384.0,961.2 L385.0,961.3 L386.0,961.3 L387.0,961.4 L388.0,961.5 L389.0,961.5 L390.0,961.6 L391.0,961.7 L392.0,961.7 L393.0,961.8 L394.0,961.8 L395.0,961.9 L396.0,962.0 L397.0,962.0 L398.0,962.1 L399.0,962.1 L400.0,962.2 L401.0,962.2 L402.0,962.3 L403.0,962.3 L404.0,962.3 L405.0,962.4 L406.0,962.4 L407.0,962.4 L408.0,962.5 L409.0,962.5 L410.0,962.5 L411.0,962.5 L412.0,962.5 L413.0,962.5 L414.0,962.5 L415.0,962.5 L416.0,962.5 L417.0,962.5 L418.0,962.5 L419.0,962.4 L420.0,962.4 L421.0,962.4 L422.0,962.4 L423.0,962.4 L424.0,962.4 L425.0,962.3 L426.0,962.3 L427.0,962.3 L428.0,962.2 L429.0,962.2 L430.0,962.2 L431.0,962.2 L432.0,962.1 L433.0,962.1 L434.0,962.0 L435.0,962.0 L436.0,962.0 L437.0,961.9 L438.0,961.9 L439.0,961.9 L440.0,961.8 L441.0,961.8 L442.0,961.7 L443.0,961.7 L444.0,961.6 L445.0,961.6 L446.0,961.6 L447.0,961.5 L448.0,961.5 L449.0,961.4 L450.0,961.4 L451.0,961.3 L452.0,961.3 L453.0,961.2 L454.0,961.2 L455.0,961.2 L456.0,961.1 L457.0,961.1 L458.0,961.0 L459.0,961.0 L460.0,960.9 L461.0,960.9 L462.0,960.8 L463.0,960.8 L464.0,960.7 L465.0,960.7 L466.0,960.6 L467.0,960.6 L468.0,960.5 L469.0,960.5 L470.0,960.4 L471.0,960.4 L472.0,960.3 L473.0,960.2 L474.0,960.2 L475.0,960.1 L476.0,960.1 L477.0,960.0 L478.0,959.9 L479.0,959.9 L480.0,959.8 L481.0,959.7 L482.0,959.7 L483.0,959.6 L484.0,959.5 L485.0,959.5 L486.0,959.4 L487.0,959.3 L488.0,959.2 L489.0,959.2 L490.0,959.1 L491.0,959.0 L492.0,959.0 L493.0,958.9 L494.0,958.8 L495.0,958.7 L496.0,958.7 L497.0,958.6 L498.0,958.5 L499.0,958.4 L500.0,958.4 L501.0,958.3 L502.0,958.2 L503.0,958.1 L504.0,958.1 L505.0,958.0 L506.0,957.9 L507.0,957.9 L508.0,957.8 L509.0,957.7 L510.0,957.6 L511.0,957.5 L512.0,957.5 L513.0,957.4 L514.0,957.3 L515.0,957.2 L516.0,957.1 L517.0,957.1 L518.0,957.0 L519.0,956.9 L520.0,956.8 L521.0,956.7 L522.0,956.6 L523.0,956.6 L524.0,956.5 L525.0,956.4 L526.0,956.3 L527.0,956.2 L528.0,956.1 L529.0,956.0 L530.0,955.9 L531.0,955.9 L532.0,955.8 L533.0,955.7 L534.0,955.6 L535.0,955.5 L536.0,955.4 L537.0,955.3 L538.0,955.2 L539.0,955.1 L540.0,955.1 L541.0,955.0 L542.0,954.9 L543.0,954.8 L544.0,954.7 L545.0,954.6 L546.0,954.5 L547.0,954.4 L548.0,954.3 L549.0,954.2 L550.0,954.1 L551.0,954.0 L552.0,953.9 L553.0,953.8 L554.0,953.7 L555.0,953.6 L556.0,953.5 L557.0,953.4 L558.0,953.3 L559.0,953.1 L560.0,953.0 L561.0,952.9 L562.0,952.7 L563.0,952.6 L564.0,952.4 L565.0,952.3 L566.0,952.1 L567.0,952.0 L568.0,951.8 L569.0,951.6 L570.0,951.4 L571.0,951.3 L572.0,951.1 L573.0,950.9 L574.0,950.7 L575.0,950.5 L576.0,950.3 L577.0,950.1 L578.0,949.9 L579.0,949.7 L580.0,949.5 L581.0,949.3 L582.0,949.1 L583.0,948.9 L584.0,948.7 L585.0,948.4 L586.0,948.2 L587.0,948.0 L588.0,947.8 L589.0,947.6 L590.0,947.3 L591.0,947.1 L592.0,946.9 L593.0,946.6 L594.0,946.4 L595.0,946.1 L596.0,945.9 L597.0,945.6 L598.0,945.4 L599.0,945.1 L600.0,944.9 L601.0,944.6 L602.0,944.3 L603.0,944.0 L604.0,943.8 L605.0,943.5 L606.0,943.2 L607.0,942.9 L608.0,942.6 L609.0,942.4 L610.0,942.1 L611.0,941.8 L612.0,941.5 L613.0,941.2 L614.0,940.9 L615.0,940.6 L616.0,940.3 L617.0,940.0 L618.0,939.7 L619.0,939.4 L620.0,939.1 L621.0,938.8 L622.0,938.4 L623.0,938.1 L624.0,937.8 L625.0,937.5 L626.0,937.1 L627.0,936.8 L628.0,936.4 L629.0,936.1 L630.0,935.7 L631.0,935.3 L632.0,935.0 L633.0,934.6 L634.0,934.2 L635.0,933.7 L636.0,933.3 L637.0,932.8 L638.0,932.4 L639.0,931.9 L640.0,931.4 L641.0,930.9 L642.0,930.3 L643.0,929.8 L644.0,929.2 L645.0,928.6 L646.0,928.0 L647.0,927.4 L648.0,926.7 L649.0,926.1 L650.0,925.4 L651.0,924.7 L652.0,924.0 L653.0,923.3 L654.0,922.5 L655.0,921.7 L656.0,920.9 L657.0,920.0 L658.0,919.2 L659.0,918.3 L660.0,917.3 L661.0,916.4 L662.0,915.4 L663.0,914.4 L664.0,913.4 L665.0,912.4 L666.0,911.4 L667.0,910.4 L668.0,909.3 L669.0,908.3 L670.0,907.2 L671.0,906.0 L672.0,904.9 L673.0,903.6 L674.0,902.3 L675.0,900.9 L676.0,899.4 L677.0,897.9 L678.0,896.1 L679.0,894.3 L680.0,892.4 L681.0,890.3 L682.0,888.0 L683.0,885.5 L684.0,882.9 L685.0,880.0 L686.0,877.0 L687.0,873.7 L688.0,870.2 L689.0,866.5 L690.0,862.6 L691.0,858.5 L692.0,854.3 L693.0,850.0 L694.0,845.5 L695.0,840.6 L696.0,835.2 L697.0,829.4 L698.0,823.0 L699.0,816.1 L700.0,808.6 L701.0,800.3 L702.0,791.1 L703.0,780.7 L704.0,768.7 L705.0,754.7 L706.0,738.8 L707.0,721.1 L708.0,702.2 L709.0,682.7 L710.0,663.1 L711.0,643.8 L712.0,625.0 L713.0,606.8 L714.0,589.4 L715.0,573.2 L716.0,558.9 L717.0,547.0 L718.0,538.4 L719.0,534.6 L720.0,537.0 L721.0,546.3 L722.0,561.7 L723.0,581.2 L724.0,602.8 L725.0,625.0 L726.0,647.0 L727.0,668.6 L728.0,689.3 L729.0,708.2 L730.0,724.8 L731.0,739.1 L732.0,751.5 L733.0,762.4 L734.0,772.2 L735.0,781.1 L736.0,789.1 L737.0,796.5 L738.0,803.4 L739.0,810.0 L740.0,816.3 L741.0,822.4 L742.0,828.1 L743.0,833.2 L744.0,837.6 L745.0,841.1 L746.0,843.6 L747.0,844.8 L748.0,844.8 L749.0,843.6 L750.0,841.2 L751.0,837.8 L752.0,833.4 L753.0,828.4 L754.0,822.7 L755.0,816.7 L756.0,810.3 L757.0,803.5 L758.0,796.2 L759.0,788.2 L760.0,779.3 L761.0,769.5 L762.0,759.1 L763.0,748.1 L764.0,736.7 L765.0,725.0 L766.0,712.8 L767.0,700.1 L768.0,687.2 L769.0,674.4 L770.0,662.0 L771.0,650.0 L772.0,638.5 L773.0,627.4 L774.0,617.1 L775.0,608.2 L776.0,601.6 L777.0,598.0 L778.0,597.8 L779.0,601.0 L780.0,607.1 L781.0,615.6 L782.0,625.8 L783.0,637.3 L784.0,650.1 L785.0,664.4 L786.0,680.4 L787.0,697.6 L788.0,715.4 L789.0,733.0 L790.0,749.9 L791.0,766.1 L792.0,781.7 L793.0,796.7 L794.0,810.9 L795.0,823.9 L796.0,835.5 L797.0,845.5 L798.0,854.0 L799.0,861.4 L800.0,868.0 L801.0,873.9 L802.0,879.4 L803.0,884.3 L804.0,888.7 L805.0,892.5 L806.0,895.9 L807.0,898.7 L808.0,901.2 L809.0,903.3 L810.0,905.3 L811.0,907.1 L812.0,908.7 L813.0,910.3 L814.0,911.7 L815.0,912.9 L816.0,914.0 L817.0,915.0 L818.0,915.8 L819.0,916.5 L820.0,917.0 L821.0,917.4 L822.0,917.8 L823.0,918.2 L824.0,918.5 L825.0,918.8 L826.0,919.1 L827.0,919.3 L828.0,919.5 L829.0,919.7 L830.0,919.9 L831.0,920.0 L832.0,920.0 L833.0,920.0 L834.0,919.9 L835.0,919.7 L836.0,919.4 L837.0,919.1 L838.0,918.6 L839.0,918.1 L840.0,917.6 L841.0,917.0 L842.0,916.4 L843.0,915.8 L844.0,915.1 L845.0,914.5 L846.0,913.9 L847.0,913.2 L848.0,912.5 L849.0,911.8 L850.0,911.0 L851.0,910.2 L852.0,909.3 L853.0,908.4 L854.0,907.5 L855.0,906.5 L856.0,905.4 L857.0,904.3 L858.0,903.0 L859.0,901.7 L860.0,900.3 L861.0,898.9 L862.0,897.4 L863.0,896.0 L864.0,894.5 L865.0,893.0 L866.0,891.5 L867.0,890.0 L868.0,888.5 L869.0,886.9 L870.0,885.3 L871.0,883.7 L872.0,882.1 L873.0,880.4 L874.0,878.7 L875.0,877.0 L876.0,875.3 L877.0,873.5 L878.0,871.7 L879.0,869.8 L880.0,867.9 L881.0,866.0 L882.0,864.0 L883.0,862.0 L884.0,859.9 L885.0,857.8 L886.0,855.6 L887.0,853.4 L888.0,851.0 L889.0,848.6 L890.0,846.0 L891.0,843.3 L892.0,840.4 L893.0,837.5 L894.0,834.3 L895.0,831.0 L896.0,827.6 L897.0,824.0 L898.0,820.2 L899.0,816.1 L900.0,811.9 L901.0,807.3 L902.0,802.5 L903.0,797.4 L904.0,792.0 L905.0,786.4 L906.0,780.3 L907.0,773.8 L908.0,766.7 L909.0,758.8 L910.0,749.9 L911.0,739.9 L912.0,728.6 L913.0,716.0 L914.0,702.3 L915.0,687.9 L916.0,673.0 L917.0,657.7 L918.0,642.2 L919.0,626.3 L920.0,609.9 L921.0,593.1 L922.0,575.7 L923.0,557.8 L924.0,539.2 L925.0,519.9 L926.0,499.9 L927.0,479.5 L928.0,459.4 L929.0,440.0 L930.0,422.2 L931.0,407.3 L932.0,397.5 L933.0,395.0 L934.0,401.2 L935.0,415.4 L936.0,435.3 L937.0,458.1 L938.0,481.8 L939.0,505.3 L940.0,528.1 L941.0,549.9 L942.0,570.4 L943.0,589.6 L944.0,607.7 L945.0,625.0 L946.0,641.5 L947.0,657.4 L948.0,672.4 L949.0,686.6 L950.0,700.0 L951.0,712.5 L952.0,724.0 L953.0,734.3 L954.0,742.9 L955.0,749.9 L956.0,755.4 L957.0,759.9 L958.0,763.7 L959.0,767.1 L960.0,769.9 L961.0,772.2 L962.0,773.8 L963.0,774.8 L964.0,775.0 L965.0,774.3 L966.0,772.7 L967.0,770.3 L968.0,767.1 L969.0,763.3 L970.0,759.1 L971.0,754.6 L972.0,749.9 L973.0,745.0 L974.0,739.8 L975.0,734.3 L976.0,728.2 L977.0,721.7 L978.0,714.6 L979.0,707.0 L980.0,698.8 L981.0,689.9 L982.0,680.2 L983.0,669.4 L984.0,657.2 L985.0,643.8 L986.0,629.2 L987.0,613.9 L988.0,598.3 L989.0,582.7 L990.0,567.3 L991.0,552.1 L992.0,536.8 L993.0,521.5 L994.0,506.1 L995.0,490.6 L996.0,475.2 L997.0,459.6 L998.0,443.8 L999.0,426.8 L1000.0,407.5 L1001.0,384.3 L1002.0,357.0 L1003.0,327.5 L1004.0,301.0 L1005.0,283.6 L1006.0,280.3 L1007.0,292.0 L1008.0,315.5 L1009.0,344.7 L1010.0,374.1 L1011.0,401.1 L1012.0,425.7 L1013.0,450.0 L1014.0,475.8 L1015.0,503.6 L1016.0,532.6 L1017.0,561.0 L1018.0,587.4 L1019.0,611.1 L1020.0,632.3 L1021.0,651.0 L1022.0,667.5 L1023.0,681.9 L1024.0,694.7 L1025.0,706.0 L1026.0,716.3 L1027.0,725.8 L1028.0,734.4 L1029.0,742.5 L1030.0,750.0 L1031.0,757.1 L1032.0,763.9 L1033.0,770.3 L1034.0,776.5 L1035.0,782.2 L1036.0,787.6 L1037.0,792.6 L1038.0,797.1 L1039.0,801.2 L1040.0,805.0 L1041.0,808.5 L1042.0,811.7 L1043.0,814.9 L1044.0,817.9 L1045.0,820.8 L1046.0,823.4 L1047.0,825.8 L1048.0,827.9 L1049.0,829.5 L1050.0,830.8 L1051.0,831.6 L1052.0,832.0 L1053.0,832.0 L1054.0,831.7 L1055.0,831.1 L1056.0,830.3 L1057.0,829.3 L1058.0,828.1 L1059.0,826.6 L1060.0,825.0 L1061.0,823.2 L1062.0,821.3 L1063.0,819.2 L1064.0,816.9 L1065.0,814.5 L1066.0,812.0 L1067.0,809.3 L1068.0,806.5 L1069.0,803.5 L1070.0,800.0 L1071.0,795.8 L1072.0,790.8 L1073.0,784.7 L1074.0,777.7 L1075.0,769.9 L1076.0,761.5 L1077.0,752.5 L1078.0,743.1 L1079.0,733.5 L1080.0,723.9 L1081.0,714.3 L1082.0,704.7 L1083.0,695.2 L1084.0,685.7 L1085.0,675.9 L1086.0,665.9 L1087.0,655.8 L1088.0,645.5 L1089.0,635.2 L1090.0,625.1 L1091.0,615.2 L1092.0,605.4 L1093.0,595.0 L1094.0,583.2 L1095.0,568.4 L1096.0,549.2 L1097.0,524.8 L1098.0,496.1 L1099.0,465.7 L1100.0,436.2 L1101.0,408.8 L1102.0,383.9 L1103.0,360.8 L1104.0,339.0 L1105.0,318.3 L1106.0,298.9 L1107.0,281.7 L1108.0,268.9 L1109.0,263.3 L1110.0,268.3 L1111.0,286.0 L1112.0,314.1 L1113.0,346.7 L1114.0,377.8 L1115.0,406.4 L1116.0,437.1 L1117.0,474.3 L1118.0,516.4 L1119.0,556.3 L1120.0,587.5 L1121.0,609.3 L1122.0,624.5 L1123.0,636.7 L1124.0,648.2 L1125.0,660.4 L1126.0,673.7 L1127.0,687.7 L1128.0,702.0 L1129.0,715.7 L1130.0,728.4 L1131.0,739.8 L1132.0,749.9 L1133.0,758.9 L1134.0,767.1 L1135.0,774.7 L1136.0,781.8 L1137.0,788.6 L1138.0,795.2 L1139.0,801.6 L1140.0,808.0 L1141.0,814.4 L1142.0,820.7 L1143.0,826.9 L1144.0,833.0 L1145.0,838.7 L1146.0,844.0 L1147.0,848.7 L1148.0,853.0 L1149.0,856.8 L1150.0,860.3 L1151.0,863.6 L1152.0,866.7 L1153.0,869.6 L1154.0,872.2 L1155.0,874.7 L1156.0,876.9 L1157.0,878.8 L1158.0,880.3 L1159.0,881.6 L1160.0,882.5 L1161.0,883.2 L1162.0,883.8 L1163.0,884.3 L1164.0,884.7 L1165.0,885.1 L1166.0,885.4 L1167.0,885.7 L1168.0,885.9 L1169.0,886.0 L1170.0,886.0 L1171.0,885.9 L1172.0,885.7 L1173.0,885.4 L1174.0,885.0 L1175.0,884.4 L1176.0,883.8 L1177.0,883.2 L1178.0,882.5 L1179.0,881.7 L1180.0,880.9 L1181.0,880.0 L1182.0,879.0 L1183.0,877.9 L1184.0,876.6 L1185.0,875.1 L1186.0,873.6 L1187.0,871.9 L1188.0,870.1 L1189.0,868.3 L1190.0,866.5 L1191.0,864.6 L1192.0,862.8 L1193.0,860.9 L1194.0,859.1 L1195.0,857.3 L1196.0,855.4 L1197.0,853.5 L1198.0,851.7 L1199.0,849.7 L1200.0,847.8 L1201.0,845.8 L1202.0,843.8 L1203.0,841.8 L1204.0,839.8 L1205.0,837.7 L1206.0,835.6 L1207.0,833.5 L1208.0,831.4 L1209.0,829.3 L1210.0,827.2 L1211.0,825.0 L1212.0,822.8 L1213.0,820.6 L1214.0,818.4 L1215.0,816.2 L1216.0,813.9 L1217.0,811.6 L1218.0,809.3 L1219.0,806.9 L1220.0,804.6 L1221.0,802.2 L1222.0,799.8 L1223.0,797.4 L1224.0,794.9 L1225.0,792.5 L1226.0,790.0 L1227.0,787.5 L1228.0,785.1 L1229.0,782.6 L1230.0,780.2 L1231.0,777.7 L1232.0,775.2 L1233.0,772.7 L1234.0,770.1 L1235.0,767.5 L1236.0,764.8 L1237.0,762.0 L1238.0,759.2 L1239.0,756.2 L1240.0,753.2 L1241.0,750.0 L1242.0,746.7 L1243.0,743.3 L1244.0,739.8 L1245.0,736.1 L1246.0,732.2 L1247.0,728.2 L1248.0,724.0 L1249.0,719.6 L1250.0,714.9 L1251.0,710.0 L1252.0,704.8 L1253.0,699.2 L1254.0,693.4 L1255.0,687.1 L1256.0,680.5 L1257.0,673.6 L1258.0,666.2 L1259.0,658.4 L1260.0,650.0 L1261.0,640.9 L1262.0,631.1 L1263.0,620.6 L1264.0,609.5 L1265.0,598.2 L1266.0,586.7 L1267.0,575.0 L1268.0,563.2 L1269.0,551.2 L1270.0,539.2 L1271.0,527.4 L1272.0,516.1 L1273.0,505.2 L1274.0,494.9 L1275.0,484.8 L1276.0,474.9 L1277.0,465.4 L1278.0,456.7 L1279.0,449.2 L1280.0,443.6 L1281.0,440.6 L1282.0,441.0 L1283.0,445.5 L1284.0,454.2 L1285.0,466.1 L1286.0,480.1 L1287.0,495.0 L1288.0,510.5 L1289.0,526.2 L1290.0,541.7 L1291.0,556.4 L1292.0,569.9 L1293.0,582.0 L1294.0,592.9 L1295.0,603.0 L1296.0,612.3 L1297.0,621.1 L1298.0,629.5 L1299.0,637.4 L1300.0,645.0 L1301.0,652.3 L1302.0,659.3 L1303.0,666.1 L1304.0,672.6 L1305.0,678.9 L1306.0,685.0 L1307.0,690.9 L1308.0,696.5 L1309.0,702.0 L1310.0,707.3 L1311.0,712.5 L1312.0,717.6 L1313.0,722.6 L1314.0,727.5 L1315.0,732.3 L1316.0,736.9 L1317.0,741.2 L1318.0,745.3 L1319.0,748.9 L1320.0,752.1 L1321.0,755.0 L1322.0,757.6 L1323.0,759.9 L1324.0,762.1 L1325.0,764.0 L1326.0,765.6 L1327.0,766.7 L1328.0,767.3 L1329.0,767.5 L1330.0,767.3 L1331.0,766.8 L1332.0,766.0 L1333.0,764.9 L1334.0,763.8 L1335.0,762.5 L1336.0,761.1 L1337.0,759.7 L1338.0,758.2 L1339.0,756.8 L1340.0,755.2 L1341.0,753.6 L1342.0,751.8 L1343.0,750.0 L1344.0,748.0 L1345.0,745.9 L1346.0,743.7 L1347.0,741.3 L1348.0,738.8 L1349.0,736.1 L1350.0,733.2 L1351.0,730.1 L1352.0,726.8 L1353.0,723.2 L1354.0,719.5 L1355.0,715.5 L1356.0,711.3 L1357.0,707.0 L1358.0,702.4 L1359.0,697.5 L1360.0,692.2 L1361.0,686.6 L1362.0,680.6 L1363.0,674.4 L1364.0,668.0 L1365.0,661.5 L1366.0,655.2 L1367.0,648.9 L1368.0,642.9 L1369.0,637.1 L1370.0,631.6 L1371.0,626.1 L1372.0,620.8 L1373.0,615.6 L1374.0,610.3 L1375.0,605.2 L1376.0,600.1 L1377.0,595.1 L1378.0,590.2 L1379.0,585.5 L1380.0,580.6 L1381.0,575.4 L1382.0,569.1 L1383.0,561.2 L1384.0,551.3 L1385.0,540.4 L1386.0,530.3 L1387.0,523.1 L1388.0,519.4 L1389.0,518.4 L1390.0,518.8 L1391.0,519.5 L1392.0,520.1 L1393.0,520.2 L1394.0,519.2 L1395.0,517.2 L1396.0,514.2 L1397.0,510.7 L1398.0,507.5 L1399.0,505.4 L1400.0,505.0 L1401.0,506.7 L1402.0,510.1 L1403.0,513.9 L1403.5,515.6" fill="none" stroke="#1717ae" stroke-width="4.0" stroke-linejoin="round" stroke-linecap="butt"/>
<path d="M1390.5,521.5 L1396,518 L1402.5,506.5" fill="none" stroke="#1717ae" stroke-width="6.5" stroke-linecap="round" stroke-linejoin="round"/>
<text x="312.5" y="95.5" class="ttl">α-GLU</text>
<text x="827" y="1123.0" text-anchor="middle" class="ax">Wavenumber (cm<tspan class="sup" dy="-24">-1</tspan><tspan dy="24">)</tspan></text>
<text transform="translate(71,671.0) rotate(-90)" class="ax">ε (M<tspan class="sup" dy="-24">-1</tspan><tspan dy="24"> cm</tspan><tspan class="sup" dy="-24">-1</tspan><tspan dy="24">)</tspan></text>
</g>
<g filter="url(#bl)">
<rect x="486.6" y="2128.0" width="3.2" height="148.5" fill="#c0c0c0"/>
<rect x="489.7" y="2128.0" width="4.4" height="148.5" fill="#0c0c0c"/>
<rect x="726.4" y="2226.0" width="3.2" height="50.5" fill="#c0c0c0"/>
<rect x="729.5" y="2226.0" width="4.4" height="50.5" fill="#0c0c0c"/>
<rect x="756.4" y="2104.0" width="3.2" height="172.5" fill="#c0c0c0"/>
<rect x="759.5" y="2104.0" width="4.4" height="172.5" fill="#0c0c0c"/>
<rect x="869.4" y="2214.0" width="3.2" height="62.5" fill="#c0c0c0"/>
<rect x="872.5" y="2214.0" width="4.4" height="62.5" fill="#0c0c0c"/>
<rect x="905.4" y="2199.0" width="3.2" height="77.5" fill="#c0c0c0"/>
<rect x="908.5" y="2199.0" width="4.4" height="77.5" fill="#0c0c0c"/>
<rect x="979.4" y="2081.0" width="3.2" height="195.5" fill="#c0c0c0"/>
<rect x="982.5" y="2081.0" width="4.4" height="195.5" fill="#0c0c0c"/>
<rect x="1009.4" y="2222.5" width="3.2" height="54.0" fill="#c0c0c0"/>
<rect x="1012.5" y="2222.5" width="4.4" height="54.0" fill="#0c0c0c"/>
<rect x="1044.9" y="2049.0" width="3.2" height="227.5" fill="#c0c0c0"/>
<rect x="1048.0" y="2049.0" width="4.4" height="227.5" fill="#0c0c0c"/>
<rect x="1094.4" y="2224.0" width="3.2" height="52.5" fill="#c0c0c0"/>
<rect x="1097.5" y="2224.0" width="4.4" height="52.5" fill="#0c0c0c"/>
<rect x="1173.4" y="2209.0" width="3.2" height="67.5" fill="#c0c0c0"/>
<rect x="1176.5" y="2209.0" width="4.4" height="67.5" fill="#0c0c0c"/>
<rect x="1210.4" y="2102.5" width="3.2" height="174.0" fill="#c0c0c0"/>
<rect x="1213.5" y="2102.5" width="4.4" height="174.0" fill="#0c0c0c"/>
<rect x="1246.4" y="2245.0" width="3.2" height="31.5" fill="#c0c0c0"/>
<rect x="1249.5" y="2245.0" width="4.4" height="31.5" fill="#0c0c0c"/>
<rect x="1261.4" y="2030.0" width="3.2" height="246.5" fill="#c0c0c0"/>
<rect x="1264.5" y="2030.0" width="4.4" height="246.5" fill="#0c0c0c"/>
<rect x="1302.2" y="1875.0" width="3.2" height="401.5" fill="#c0c0c0"/>
<rect x="1305.2" y="1875.0" width="4.4" height="401.5" fill="#0c0c0c"/>
<rect x="246.4" y="1344.0" width="3.4" height="953.5" fill="#b4b4b4"/>
<rect x="249.6" y="1344.0" width="4.2" height="953.5" fill="#363636"/>
<rect x="231" y="2272.3" width="1174.4" height="4.0" fill="#b2b2b2"/>
<rect x="231" y="2276.1" width="1174.4" height="3.9" fill="#363636"/>
<text x="217.2" y="2289.3" text-anchor="end" class="tk">0</text>
<rect x="238.5" y="2156.6" width="8.5" height="7.2" fill="#7a7a7a"/>
<rect x="230.5" y="2038.3" width="16.5" height="11" fill="#d2d2d2"/>
<rect x="230.5" y="2041.9" width="16.5" height="4.0" fill="#363636"/>
<text x="217.2" y="2056.7" text-anchor="end" class="tk">50</text>
<rect x="238.5" y="1924.0" width="8.5" height="7.2" fill="#7a7a7a"/>
<rect x="230.5" y="1805.7" width="16.5" height="11" fill="#d2d2d2"/>
<rect x="230.5" y="1809.2" width="16.5" height="4.0" fill="#363636"/>
<text x="217.2" y="1824.0" text-anchor="end" class="tk">100</text>
<rect x="238.5" y="1691.3" width="8.5" height="7.2" fill="#7a7a7a"/>
<rect x="230.5" y="1573.0" width="16.5" height="11" fill="#d2d2d2"/>
<rect x="230.5" y="1576.6" width="16.5" height="4.0" fill="#363636"/>
<text x="217.2" y="1591.4" text-anchor="end" class="tk">150</text>
<rect x="238.5" y="1458.7" width="8.5" height="7.2" fill="#7a7a7a"/>
<rect x="230.5" y="1340.4" width="16.5" height="11" fill="#d2d2d2"/>
<rect x="230.5" y="1344.0" width="16.5" height="4.0" fill="#363636"/>
<text x="217.2" y="1358.8" text-anchor="end" class="tk">200</text>
<text x="251.0" y="2339.0" text-anchor="middle" class="tk tkx">0.5</text>
<rect x="329.7" y="2279.5" width="7.2" height="8.5" fill="#7c7c7c"/>
<rect x="411.0" y="2279.5" width="3.6" height="16.5" fill="#d6d6d6"/>
<rect x="414.6" y="2279.5" width="3.6" height="16.5" fill="#3a3a3a"/>
<text x="415.6" y="2339.0" text-anchor="middle" class="tk tkx">1.0</text>
<rect x="494.3" y="2279.5" width="7.2" height="8.5" fill="#7c7c7c"/>
<rect x="575.5" y="2279.5" width="3.6" height="16.5" fill="#d6d6d6"/>
<rect x="579.1" y="2279.5" width="3.6" height="16.5" fill="#3a3a3a"/>
<text x="580.1" y="2339.0" text-anchor="middle" class="tk tkx">1.5</text>
<rect x="658.8" y="2279.5" width="7.2" height="8.5" fill="#7c7c7c"/>
<rect x="740.1" y="2279.5" width="3.6" height="16.5" fill="#d6d6d6"/>
<rect x="743.7" y="2279.5" width="3.6" height="16.5" fill="#3a3a3a"/>
<text x="744.7" y="2339.0" text-anchor="middle" class="tk tkx">2.0</text>
<rect x="823.4" y="2279.5" width="7.2" height="8.5" fill="#7c7c7c"/>
<rect x="904.7" y="2279.5" width="3.6" height="16.5" fill="#d6d6d6"/>
<rect x="908.3" y="2279.5" width="3.6" height="16.5" fill="#3a3a3a"/>
<text x="909.3" y="2339.0" text-anchor="middle" class="tk tkx">2.5</text>
<rect x="988.0" y="2279.5" width="7.2" height="8.5" fill="#7c7c7c"/>
<rect x="1069.3" y="2279.5" width="3.6" height="16.5" fill="#d6d6d6"/>
<rect x="1072.9" y="2279.5" width="3.6" height="16.5" fill="#3a3a3a"/>
<text x="1073.9" y="2339.0" text-anchor="middle" class="tk tkx">3.0</text>
<rect x="1152.5" y="2279.5" width="7.2" height="8.5" fill="#7c7c7c"/>
<rect x="1233.8" y="2279.5" width="3.6" height="16.5" fill="#d6d6d6"/>
<rect x="1237.4" y="2279.5" width="3.6" height="16.5" fill="#3a3a3a"/>
<text x="1238.4" y="2339.0" text-anchor="middle" class="tk tkx">3.5</text>
<rect x="1317.1" y="2279.5" width="7.2" height="8.5" fill="#7c7c7c"/>
<rect x="1398.4" y="2279.5" width="3.6" height="16.5" fill="#d6d6d6"/>
<rect x="1402.0" y="2279.5" width="3.6" height="16.5" fill="#3a3a3a"/>
<text x="1403.0" y="2339.0" text-anchor="middle" class="tk tkx">4.0</text>
<path d="M251.0,2273.5 L252.0,2273.5 L253.0,2273.4 L254.0,2273.4 L255.0,2273.3 L256.0,2273.3 L257.0,2273.2 L258.0,2273.1 L259.0,2273.1 L260.0,2273.0 L261.0,2273.0 L262.0,2272.9 L263.0,2272.9 L264.0,2272.8 L265.0,2272.7 L266.0,2272.7 L267.0,2272.6 L268.0,2272.6 L269.0,2272.5 L270.0,2272.5 L271.0,2272.4 L272.0,2272.4 L273.0,2272.3 L274.0,2272.3 L275.0,2272.2 L276.0,2272.2 L277.0,2272.1 L278.0,2272.1 L279.0,2272.0 L280.0,2272.0 L281.0,2271.9 L282.0,2271.9 L283.0,2271.8 L284.0,2271.8 L285.0,2271.7 L286.0,2271.7 L287.0,2271.6 L288.0,2271.6 L289.0,2271.5 L290.0,2271.5 L291.0,2271.5 L292.0,2271.4 L293.0,2271.4 L294.0,2271.3 L295.0,2271.3 L296.0,2271.3 L297.0,2271.2 L298.0,2271.2 L299.0,2271.1 L300.0,2271.1 L301.0,2271.1 L302.0,2271.0 L303.0,2271.0 L304.0,2271.0 L305.0,2270.9 L306.0,2270.9 L307.0,2270.9 L308.0,2270.8 L309.0,2270.8 L310.0,2270.8 L311.0,2270.7 L312.0,2270.7 L313.0,2270.7 L314.0,2270.6 L315.0,2270.6 L316.0,2270.6 L317.0,2270.5 L318.0,2270.5 L319.0,2270.5 L320.0,2270.4 L321.0,2270.4 L322.0,2270.3 L323.0,2270.3 L324.0,2270.3 L325.0,2270.2 L326.0,2270.2 L327.0,2270.1 L328.0,2270.1 L329.0,2270.0 L330.0,2270.0 L331.0,2270.0 L332.0,2269.9 L333.0,2269.9 L334.0,2269.8 L335.0,2269.8 L336.0,2269.7 L337.0,2269.7 L338.0,2269.6 L339.0,2269.6 L340.0,2269.5 L341.0,2269.5 L342.0,2269.4 L343.0,2269.3 L344.0,2269.3 L345.0,2269.2 L346.0,2269.2 L347.0,2269.1 L348.0,2269.0 L349.0,2269.0 L350.0,2268.9 L351.0,2268.8 L352.0,2268.7 L353.0,2268.7 L354.0,2268.6 L355.0,2268.5 L356.0,2268.4 L357.0,2268.3 L358.0,2268.2 L359.0,2268.1 L360.0,2268.0 L361.0,2267.9 L362.0,2267.7 L363.0,2267.6 L364.0,2267.4 L365.0,2267.2 L366.0,2267.0 L367.0,2266.8 L368.0,2266.6 L369.0,2266.4 L370.0,2266.1 L371.0,2265.9 L372.0,2265.7 L373.0,2265.5 L374.0,2265.2 L375.0,2265.0 L376.0,2264.8 L377.0,2264.5 L378.0,2264.3 L379.0,2264.0 L380.0,2263.8 L381.0,2263.5 L382.0,2263.3 L383.0,2263.1 L384.0,2262.8 L385.0,2262.6 L386.0,2262.4 L387.0,2262.2 L388.0,2262.0 L389.0,2261.8 L390.0,2261.7 L391.0,2261.5 L392.0,2261.4 L393.0,2261.3 L394.0,2261.2 L395.0,2261.0 L396.0,2260.9 L397.0,2260.8 L398.0,2260.6 L399.0,2260.5 L400.0,2260.3 L401.0,2260.1 L402.0,2259.9 L403.0,2259.7 L404.0,2259.5 L405.0,2259.3 L406.0,2259.1 L407.0,2258.8 L408.0,2258.6 L409.0,2258.3 L410.0,2258.0 L411.0,2257.7 L412.0,2257.4 L413.0,2257.1 L414.0,2256.8 L415.0,2256.4 L416.0,2256.1 L417.0,2255.7 L418.0,2255.3 L419.0,2254.9 L420.0,2254.5 L421.0,2254.0 L422.0,2253.5 L423.0,2253.0 L424.0,2252.4 L425.0,2251.8 L426.0,2251.1 L427.0,2250.4 L428.0,2249.6 L429.0,2248.9 L430.0,2248.1 L431.0,2247.3 L432.0,2246.5 L433.0,2245.7 L434.0,2244.8 L435.0,2243.9 L436.0,2243.0 L437.0,2242.1 L438.0,2241.1 L439.0,2240.0 L440.0,2238.9 L441.0,2237.7 L442.0,2236.4 L443.0,2235.1 L444.0,2233.6 L445.0,2232.0 L446.0,2230.3 L447.0,2228.5 L448.0,2226.6 L449.0,2224.7 L450.0,2222.8 L451.0,2220.8 L452.0,2218.7 L453.0,2216.5 L454.0,2214.2 L455.0,2211.6 L456.0,2208.8 L457.0,2205.7 L458.0,2202.2 L459.0,2198.4 L460.0,2194.3 L461.0,2190.0 L462.0,2185.5 L463.0,2181.0 L464.0,2176.4 L465.0,2171.9 L466.0,2167.4 L467.0,2162.8 L468.0,2158.0 L469.0,2152.8 L470.0,2147.0 L471.0,2140.6 L472.0,2133.5 L473.0,2125.9 L474.0,2118.0 L475.0,2110.0 L476.0,2102.2 L477.0,2094.7 L478.0,2087.3 L479.0,2080.0 L480.0,2072.7 L481.0,2065.3 L482.0,2057.9 L483.0,2050.4 L484.0,2042.8 L485.0,2035.1 L486.0,2027.4 L487.0,2019.8 L488.0,2012.5 L489.0,2006.2 L490.0,2001.4 L491.0,1999.0 L492.0,1999.4 L493.0,2002.6 L494.0,2008.1 L495.0,2014.9 L496.0,2022.6 L497.0,2030.4 L498.0,2038.2 L499.0,2045.9 L500.0,2053.5 L501.0,2060.9 L502.0,2068.3 L503.0,2075.7 L504.0,2083.1 L505.0,2090.6 L506.0,2098.3 L507.0,2106.1 L508.0,2114.1 L509.0,2122.0 L510.0,2129.8 L511.0,2137.2 L512.0,2143.9 L513.0,2149.9 L514.0,2155.3 L515.0,2160.2 L516.0,2164.9 L517.0,2169.3 L518.0,2173.8 L519.0,2178.2 L520.0,2182.7 L521.0,2187.2 L522.0,2191.7 L523.0,2195.9 L524.0,2199.9 L525.0,2203.6 L526.0,2207.0 L527.0,2210.0 L528.0,2212.8 L529.0,2215.4 L530.0,2217.9 L531.0,2220.1 L532.0,2222.2 L533.0,2224.2 L534.0,2225.9 L535.0,2227.5 L536.0,2229.0 L537.0,2230.3 L538.0,2231.5 L539.0,2232.7 L540.0,2233.7 L541.0,2234.7 L542.0,2235.7 L543.0,2236.6 L544.0,2237.4 L545.0,2238.3 L546.0,2239.0 L547.0,2239.8 L548.0,2240.5 L549.0,2241.2 L550.0,2241.8 L551.0,2242.5 L552.0,2243.1 L553.0,2243.8 L554.0,2244.4 L555.0,2245.0 L556.0,2245.6 L557.0,2246.2 L558.0,2246.8 L559.0,2247.3 L560.0,2247.9 L561.0,2248.4 L562.0,2248.9 L563.0,2249.4 L564.0,2249.9 L565.0,2250.3 L566.0,2250.7 L567.0,2251.1 L568.0,2251.5 L569.0,2251.8 L570.0,2252.1 L571.0,2252.4 L572.0,2252.6 L573.0,2252.9 L574.0,2253.1 L575.0,2253.3 L576.0,2253.5 L577.0,2253.7 L578.0,2253.9 L579.0,2254.1 L580.0,2254.2 L581.0,2254.4 L582.0,2254.6 L583.0,2254.7 L584.0,2254.8 L585.0,2255.0 L586.0,2255.1 L587.0,2255.2 L588.0,2255.3 L589.0,2255.4 L590.0,2255.5 L591.0,2255.6 L592.0,2255.7 L593.0,2255.8 L594.0,2255.9 L595.0,2255.9 L596.0,2256.0 L597.0,2256.1 L598.0,2256.2 L599.0,2256.3 L600.0,2256.3 L601.0,2256.4 L602.0,2256.4 L603.0,2256.4 L604.0,2256.5 L605.0,2256.5 L606.0,2256.5 L607.0,2256.5 L608.0,2256.5 L609.0,2256.5 L610.0,2256.4 L611.0,2256.4 L612.0,2256.3 L613.0,2256.3 L614.0,2256.2 L615.0,2256.1 L616.0,2256.0 L617.0,2256.0 L618.0,2255.9 L619.0,2255.8 L620.0,2255.7 L621.0,2255.5 L622.0,2255.4 L623.0,2255.3 L624.0,2255.2 L625.0,2255.0 L626.0,2254.9 L627.0,2254.8 L628.0,2254.6 L629.0,2254.5 L630.0,2254.4 L631.0,2254.2 L632.0,2254.1 L633.0,2253.9 L634.0,2253.8 L635.0,2253.6 L636.0,2253.4 L637.0,2253.2 L638.0,2253.0 L639.0,2252.7 L640.0,2252.5 L641.0,2252.2 L642.0,2252.0 L643.0,2251.7 L644.0,2251.4 L645.0,2251.1 L646.0,2250.8 L647.0,2250.5 L648.0,2250.2 L649.0,2249.9 L650.0,2249.5 L651.0,2249.2 L652.0,2248.9 L653.0,2248.5 L654.0,2248.2 L655.0,2247.8 L656.0,2247.5 L657.0,2247.1 L658.0,2246.8 L659.0,2246.4 L660.0,2246.0 L661.0,2245.6 L662.0,2245.2 L663.0,2244.7 L664.0,2244.3 L665.0,2243.8 L666.0,2243.4 L667.0,2242.9 L668.0,2242.4 L669.0,2241.9 L670.0,2241.3 L671.0,2240.8 L672.0,2240.2 L673.0,2239.6 L674.0,2239.0 L675.0,2238.3 L676.0,2237.6 L677.0,2236.9 L678.0,2236.1 L679.0,2235.3 L680.0,2234.5 L681.0,2233.6 L682.0,2232.7 L683.0,2231.8 L684.0,2230.8 L685.0,2229.8 L686.0,2228.8 L687.0,2227.7 L688.0,2226.6 L689.0,2225.5 L690.0,2224.3 L691.0,2223.1 L692.0,2221.8 L693.0,2220.4 L694.0,2219.0 L695.0,2217.4 L696.0,2215.8 L697.0,2214.1 L698.0,2212.2 L699.0,2210.3 L700.0,2208.1 L701.0,2205.8 L702.0,2203.4 L703.0,2200.8 L704.0,2198.0 L705.0,2195.1 L706.0,2192.1 L707.0,2188.8 L708.0,2185.3 L709.0,2181.6 L710.0,2177.8 L711.0,2173.8 L712.0,2169.8 L713.0,2165.7 L714.0,2161.6 L715.0,2157.4 L716.0,2153.3 L717.0,2149.1 L718.0,2145.0 L719.0,2141.0 L720.0,2137.1 L721.0,2133.3 L722.0,2129.5 L723.0,2125.7 L724.0,2121.9 L725.0,2118.1 L726.0,2114.2 L727.0,2110.2 L728.0,2106.1 L729.0,2101.8 L730.0,2097.4 L731.0,2092.9 L732.0,2088.5 L733.0,2084.1 L734.0,2079.8 L735.0,2075.5 L736.0,2071.1 L737.0,2066.4 L738.0,2061.3 L739.0,2055.7 L740.0,2049.6 L741.0,2042.9 L742.0,2035.9 L743.0,2028.7 L744.0,2021.2 L745.0,2013.6 L746.0,2005.6 L747.0,1997.3 L748.0,1988.9 L749.0,1980.8 L750.0,1973.3 L751.0,1966.3 L752.0,1959.7 L753.0,1953.3 L754.0,1947.1 L755.0,1941.2 L756.0,1935.9 L757.0,1931.1 L758.0,1927.0 L759.0,1923.9 L760.0,1922.2 L761.0,1922.0 L762.0,1923.6 L763.0,1926.9 L764.0,1931.6 L765.0,1937.7 L766.0,1945.3 L767.0,1954.4 L768.0,1964.9 L769.0,1976.4 L770.0,1988.2 L771.0,1999.8 L772.0,2010.8 L773.0,2021.2 L774.0,2031.1 L775.0,2040.5 L776.0,2049.5 L777.0,2058.3 L778.0,2066.7 L779.0,2074.9 L780.0,2082.8 L781.0,2090.5 L782.0,2098.0 L783.0,2105.3 L784.0,2112.5 L785.0,2119.6 L786.0,2126.5 L787.0,2133.1 L788.0,2139.2 L789.0,2144.9 L790.0,2149.9 L791.0,2154.4 L792.0,2158.4 L793.0,2161.9 L794.0,2165.2 L795.0,2168.2 L796.0,2171.0 L797.0,2173.7 L798.0,2176.3 L799.0,2178.8 L800.0,2181.2 L801.0,2183.5 L802.0,2185.8 L803.0,2187.9 L804.0,2189.8 L805.0,2191.5 L806.0,2193.1 L807.0,2194.4 L808.0,2195.5 L809.0,2196.5 L810.0,2197.4 L811.0,2198.1 L812.0,2198.8 L813.0,2199.4 L814.0,2200.0 L815.0,2200.5 L816.0,2201.0 L817.0,2201.5 L818.0,2201.9 L819.0,2202.3 L820.0,2202.7 L821.0,2203.1 L822.0,2203.3 L823.0,2203.6 L824.0,2203.7 L825.0,2203.8 L826.0,2203.7 L827.0,2203.6 L828.0,2203.4 L829.0,2203.1 L830.0,2202.8 L831.0,2202.4 L832.0,2202.0 L833.0,2201.5 L834.0,2201.0 L835.0,2200.4 L836.0,2199.7 L837.0,2198.9 L838.0,2198.0 L839.0,2197.1 L840.0,2196.0 L841.0,2194.8 L842.0,2193.5 L843.0,2192.0 L844.0,2190.4 L845.0,2188.5 L846.0,2186.5 L847.0,2184.2 L848.0,2181.6 L849.0,2178.9 L850.0,2176.0 L851.0,2173.0 L852.0,2169.8 L853.0,2166.4 L854.0,2163.0 L855.0,2159.4 L856.0,2155.7 L857.0,2151.9 L858.0,2148.2 L859.0,2144.4 L860.0,2140.6 L861.0,2136.9 L862.0,2133.0 L863.0,2129.1 L864.0,2124.9 L865.0,2120.7 L866.0,2116.4 L867.0,2112.3 L868.0,2108.5 L869.0,2105.1 L870.0,2102.2 L871.0,2099.8 L872.0,2097.8 L873.0,2096.4 L874.0,2095.4 L875.0,2095.0 L876.0,2095.1 L877.0,2095.8 L878.0,2096.8 L879.0,2098.1 L880.0,2099.5 L881.0,2101.0 L882.0,2102.6 L883.0,2104.3 L884.0,2106.0 L885.0,2107.6 L886.0,2109.0 L887.0,2110.1 L888.0,2110.8 L889.0,2111.0 L890.0,2110.6 L891.0,2109.6 L892.0,2108.1 L893.0,2106.1 L894.0,2103.7 L895.0,2101.1 L896.0,2098.4 L897.0,2095.6 L898.0,2092.8 L899.0,2090.0 L900.0,2087.1 L901.0,2084.1 L902.0,2081.0 L903.0,2077.8 L904.0,2074.7 L905.0,2071.6 L906.0,2068.8 L907.0,2066.4 L908.0,2064.4 L909.0,2063.1 L910.0,2062.5 L911.0,2062.7 L912.0,2063.7 L913.0,2065.6 L914.0,2068.0 L915.0,2071.0 L916.0,2074.4 L917.0,2078.1 L918.0,2082.1 L919.0,2086.4 L920.0,2091.0 L921.0,2095.7 L922.0,2100.4 L923.0,2104.8 L924.0,2108.9 L925.0,2112.4 L926.0,2115.6 L927.0,2118.5 L928.0,2121.1 L929.0,2123.6 L930.0,2125.9 L931.0,2128.0 L932.0,2130.0 L933.0,2131.7 L934.0,2133.2 L935.0,2134.4 L936.0,2135.2 L937.0,2135.8 L938.0,2136.0 L939.0,2135.9 L940.0,2135.4 L941.0,2134.7 L942.0,2133.6 L943.0,2132.4 L944.0,2130.9 L945.0,2129.2 L946.0,2127.3 L947.0,2125.1 L948.0,2122.7 L949.0,2120.0 L950.0,2116.6 L951.0,2112.7 L952.0,2108.1 L953.0,2103.0 L954.0,2097.3 L955.0,2091.2 L956.0,2084.9 L957.0,2078.3 L958.0,2071.6 L959.0,2064.6 L960.0,2057.4 L961.0,2049.8 L962.0,2041.9 L963.0,2033.6 L964.0,2025.0 L965.0,2016.0 L966.0,2006.5 L967.0,1996.5 L968.0,1986.0 L969.0,1974.9 L970.0,1963.3 L971.0,1951.0 L972.0,1938.4 L973.0,1925.5 L974.0,1912.4 L975.0,1899.4 L976.0,1886.8 L977.0,1874.9 L978.0,1864.3 L979.0,1855.3 L980.0,1847.7 L981.0,1841.8 L982.0,1837.4 L983.0,1834.8 L984.0,1834.0 L985.0,1835.1 L986.0,1838.0 L987.0,1842.4 L988.0,1848.2 L989.0,1855.2 L990.0,1863.1 L991.0,1871.9 L992.0,1881.2 L993.0,1890.7 L994.0,1899.9 L995.0,1908.6 L996.0,1916.8 L997.0,1924.4 L998.0,1931.3 L999.0,1937.5 L1000.0,1943.0 L1001.0,1948.0 L1002.0,1952.5 L1003.0,1956.5 L1004.0,1959.9 L1005.0,1962.7 L1006.0,1965.0 L1007.0,1966.8 L1008.0,1968.3 L1009.0,1969.6 L1010.0,1970.8 L1011.0,1971.8 L1012.0,1972.7 L1013.0,1973.5 L1014.0,1974.1 L1015.0,1974.6 L1016.0,1974.9 L1017.0,1975.0 L1018.0,1974.9 L1019.0,1974.6 L1020.0,1974.1 L1021.0,1973.4 L1022.0,1972.4 L1023.0,1971.1 L1024.0,1969.6 L1025.0,1967.6 L1026.0,1964.9 L1027.0,1961.3 L1028.0,1956.7 L1029.0,1951.0 L1030.0,1944.4 L1031.0,1937.0 L1032.0,1929.2 L1033.0,1920.9 L1034.0,1912.0 L1035.0,1902.5 L1036.0,1892.1 L1037.0,1880.7 L1038.0,1868.3 L1039.0,1855.2 L1040.0,1841.9 L1041.0,1829.2 L1042.0,1817.9 L1043.0,1808.3 L1044.0,1800.5 L1045.0,1794.1 L1046.0,1789.1 L1047.0,1785.4 L1048.0,1783.1 L1049.0,1782.5 L1050.0,1783.4 L1051.0,1786.0 L1052.0,1790.2 L1053.0,1796.0 L1054.0,1803.4 L1055.0,1812.9 L1056.0,1824.6 L1057.0,1838.5 L1058.0,1854.1 L1059.0,1870.6 L1060.0,1887.3 L1061.0,1903.6 L1062.0,1919.3 L1063.0,1934.4 L1064.0,1948.7 L1065.0,1962.3 L1066.0,1975.0 L1067.0,1986.8 L1068.0,1997.6 L1069.0,2007.6 L1070.0,2016.7 L1071.0,2024.9 L1072.0,2032.4 L1073.0,2039.1 L1074.0,2045.2 L1075.0,2050.7 L1076.0,2055.8 L1077.0,2060.4 L1078.0,2064.6 L1079.0,2068.4 L1080.0,2071.9 L1081.0,2074.9 L1082.0,2077.5 L1083.0,2079.5 L1084.0,2081.0 L1085.0,2082.0 L1086.0,2082.6 L1087.0,2083.1 L1088.0,2083.4 L1089.0,2083.6 L1090.0,2083.9 L1091.0,2084.1 L1092.0,2084.4 L1093.0,2084.8 L1094.0,2085.3 L1095.0,2086.0 L1096.0,2087.0 L1097.0,2088.3 L1098.0,2090.0 L1099.0,2091.9 L1100.0,2094.0 L1101.0,2096.3 L1102.0,2098.7 L1103.0,2101.3 L1104.0,2104.0 L1105.0,2106.9 L1106.0,2109.8 L1107.0,2112.9 L1108.0,2116.0 L1109.0,2119.0 L1110.0,2122.0 L1111.0,2125.0 L1112.0,2127.9 L1113.0,2130.8 L1114.0,2133.6 L1115.0,2136.4 L1116.0,2139.1 L1117.0,2141.6 L1118.0,2143.9 L1119.0,2146.0 L1120.0,2148.0 L1121.0,2149.8 L1122.0,2151.5 L1123.0,2153.2 L1124.0,2154.7 L1125.0,2156.2 L1126.0,2157.6 L1127.0,2158.9 L1128.0,2160.0 L1129.0,2160.9 L1130.0,2161.6 L1131.0,2162.2 L1132.0,2162.4 L1133.0,2162.5 L1134.0,2162.4 L1135.0,2162.0 L1136.0,2161.5 L1137.0,2160.9 L1138.0,2160.1 L1139.0,2159.2 L1140.0,2158.1 L1141.0,2157.0 L1142.0,2155.8 L1143.0,2154.6 L1144.0,2153.2 L1145.0,2151.8 L1146.0,2150.2 L1147.0,2148.3 L1148.0,2146.3 L1149.0,2144.0 L1150.0,2141.5 L1151.0,2138.8 L1152.0,2135.9 L1153.0,2132.9 L1154.0,2129.8 L1155.0,2126.6 L1156.0,2123.4 L1157.0,2120.0 L1158.0,2116.4 L1159.0,2112.7 L1160.0,2108.8 L1161.0,2104.6 L1162.0,2100.2 L1163.0,2095.3 L1164.0,2089.9 L1165.0,2084.1 L1166.0,2077.7 L1167.0,2070.9 L1168.0,2064.0 L1169.0,2056.9 L1170.0,2050.0 L1171.0,2043.2 L1172.0,2036.7 L1173.0,2030.7 L1174.0,2025.3 L1175.0,2020.7 L1176.0,2017.1 L1177.0,2014.3 L1178.0,2012.2 L1179.0,2010.6 L1180.0,2009.3 L1181.0,2008.2 L1182.0,2007.2 L1183.0,2006.2 L1184.0,2005.1 L1185.0,2003.9 L1186.0,2002.5 L1187.0,2001.0 L1188.0,1999.2 L1189.0,1997.1 L1190.0,1994.9 L1191.0,1992.4 L1192.0,1989.7 L1193.0,1986.8 L1194.0,1983.7 L1195.0,1980.3 L1196.0,1976.5 L1197.0,1972.0 L1198.0,1966.5 L1199.0,1959.7 L1200.0,1951.4 L1201.0,1941.7 L1202.0,1930.9 L1203.0,1919.1 L1204.0,1906.9 L1205.0,1894.5 L1206.0,1882.1 L1207.0,1869.9 L1208.0,1858.3 L1209.0,1847.6 L1210.0,1838.2 L1211.0,1830.3 L1212.0,1823.9 L1213.0,1819.0 L1214.0,1815.5 L1215.0,1813.5 L1216.0,1813.0 L1217.0,1814.1 L1218.0,1816.7 L1219.0,1820.6 L1220.0,1825.5 L1221.0,1831.1 L1222.0,1837.0 L1223.0,1843.2 L1224.0,1849.6 L1225.0,1856.1 L1226.0,1862.4 L1227.0,1868.3 L1228.0,1873.5 L1229.0,1877.9 L1230.0,1881.5 L1231.0,1884.4 L1232.0,1886.6 L1233.0,1888.1 L1234.0,1888.8 L1235.0,1888.6 L1236.0,1887.5 L1237.0,1885.4 L1238.0,1882.4 L1239.0,1878.6 L1240.0,1874.4 L1241.0,1869.7 L1242.0,1864.5 L1243.0,1858.7 L1244.0,1852.0 L1245.0,1843.6 L1246.0,1832.8 L1247.0,1818.8 L1248.0,1801.6 L1249.0,1781.8 L1250.0,1761.1 L1251.0,1741.2 L1252.0,1723.2 L1253.0,1707.3 L1254.0,1692.7 L1255.0,1678.5 L1256.0,1664.2 L1257.0,1649.8 L1258.0,1635.9 L1259.0,1623.5 L1260.0,1613.3 L1261.0,1605.5 L1262.0,1599.7 L1263.0,1595.3 L1264.0,1592.2 L1265.0,1590.1 L1266.0,1589.3 L1267.0,1590.0 L1268.0,1592.3 L1269.0,1596.2 L1270.0,1601.6 L1271.0,1608.0 L1272.0,1615.1 L1273.0,1622.5 L1274.0,1630.0 L1275.0,1637.3 L1276.0,1644.0 L1277.0,1649.9 L1278.0,1654.9 L1279.0,1659.0 L1280.0,1662.3 L1281.0,1664.6 L1282.0,1665.6 L1283.0,1665.0 L1284.0,1662.5 L1285.0,1657.8 L1286.0,1651.2 L1287.0,1642.9 L1288.0,1632.9 L1289.0,1621.5 L1290.0,1608.5 L1291.0,1594.0 L1292.0,1578.1 L1293.0,1561.1 L1294.0,1543.3 L1295.0,1525.2 L1296.0,1507.4 L1297.0,1490.4 L1298.0,1474.7 L1299.0,1460.3 L1300.0,1447.1 L1301.0,1434.9 L1302.0,1423.6 L1303.0,1413.6 L1304.0,1405.4 L1305.0,1399.9 L1306.0,1397.5 L1307.0,1398.6 L1308.0,1403.0 L1309.0,1410.8 L1310.0,1421.6 L1311.0,1435.6 L1312.0,1452.9 L1313.0,1473.3 L1314.0,1496.3 L1315.0,1521.0 L1316.0,1546.9 L1317.0,1573.7 L1318.0,1601.2 L1319.0,1629.2 L1320.0,1657.8 L1321.0,1686.5 L1322.0,1715.1 L1323.0,1743.1 L1324.0,1769.9 L1325.0,1794.9 L1326.0,1817.6 L1327.0,1837.8 L1328.0,1855.7 L1329.0,1871.8 L1330.0,1886.4 L1331.0,1900.0 L1332.0,1912.8 L1333.0,1924.9 L1334.0,1936.7 L1335.0,1948.4 L1336.0,1960.1 L1337.0,1972.1 L1338.0,1984.1 L1339.0,1995.8 L1340.0,2006.7 L1341.0,2016.4 L1342.0,2024.8 L1343.0,2031.8 L1344.0,2037.7 L1345.0,2042.7 L1346.0,2047.2 L1347.0,2051.2 L1348.0,2055.1 L1349.0,2058.8 L1350.0,2062.5 L1351.0,2066.3 L1352.0,2070.0 L1353.0,2073.7 L1354.0,2077.2 L1355.0,2080.6 L1356.0,2083.7 L1357.0,2086.4 L1358.0,2088.9 L1359.0,2091.0 L1360.0,2092.9 L1361.0,2094.7 L1362.0,2096.4 L1363.0,2098.0 L1364.0,2099.5 L1365.0,2100.9 L1366.0,2102.3 L1367.0,2103.5 L1368.0,2104.7 L1369.0,2105.7 L1370.0,2106.6 L1371.0,2107.3 L1372.0,2107.9 L1373.0,2108.4 L1374.0,2108.6 L1375.0,2108.8 L1376.0,2108.7 L1377.0,2108.5 L1378.0,2108.2 L1379.0,2107.8 L1380.0,2107.3 L1381.0,2106.7 L1382.0,2106.0 L1383.0,2105.2 L1384.0,2104.4 L1385.0,2103.5 L1386.0,2102.5 L1387.0,2101.4 L1388.0,2100.0 L1389.0,2098.5 L1390.0,2096.8 L1391.0,2094.9 L1392.0,2092.7 L1393.0,2090.4 L1394.0,2087.9 L1395.0,2085.1 L1396.0,2081.9 L1397.0,2078.4 L1398.0,2074.5 L1399.0,2070.1 L1400.0,2065.3 L1401.0,2060.4 L1402.0,2055.8 L1403.0,2051.9 L1403.5,2050.3" fill="none" stroke="#0a0a0a" stroke-width="4.4" stroke-linejoin="round" stroke-linecap="butt"/>
<path d="M251.0,2275.8 L252.0,2275.0 L253.0,2274.0 L254.0,2273.0 L255.0,2271.8 L256.0,2270.7 L257.0,2269.5 L258.0,2268.4 L259.0,2267.3 L260.0,2266.3 L261.0,2265.3 L262.0,2264.3 L263.0,2263.4 L264.0,2262.6 L265.0,2261.8 L266.0,2261.0 L267.0,2260.3 L268.0,2259.7 L269.0,2259.1 L270.0,2258.5 L271.0,2258.0 L272.0,2257.5 L273.0,2257.0 L274.0,2256.6 L275.0,2256.2 L276.0,2255.7 L277.0,2255.3 L278.0,2254.8 L279.0,2254.4 L280.0,2253.9 L281.0,2253.4 L282.0,2252.8 L283.0,2252.2 L284.0,2251.5 L285.0,2250.8 L286.0,2250.0 L287.0,2249.2 L288.0,2248.4 L289.0,2247.7 L290.0,2246.9 L291.0,2246.3 L292.0,2245.7 L293.0,2245.2 L294.0,2244.8 L295.0,2244.5 L296.0,2244.3 L297.0,2244.1 L298.0,2244.0 L299.0,2244.0 L300.0,2243.9 L301.0,2243.9 L302.0,2243.8 L303.0,2243.8 L304.0,2243.8 L305.0,2243.7 L306.0,2243.7 L307.0,2243.7 L308.0,2243.7 L309.0,2243.7 L310.0,2243.7 L311.0,2243.8 L312.0,2243.8 L313.0,2243.9 L314.0,2244.0 L315.0,2244.1 L316.0,2244.3 L317.0,2244.4 L318.0,2244.6 L319.0,2244.7 L320.0,2244.9 L321.0,2245.1 L322.0,2245.3 L323.0,2245.5 L324.0,2245.8 L325.0,2246.0 L326.0,2246.3 L327.0,2246.5 L328.0,2246.8 L329.0,2247.1 L330.0,2247.4 L331.0,2247.8 L332.0,2248.1 L333.0,2248.5 L334.0,2248.8 L335.0,2249.2 L336.0,2249.6 L337.0,2249.9 L338.0,2250.3 L339.0,2250.6 L340.0,2251.0 L341.0,2251.4 L342.0,2251.7 L343.0,2252.1 L344.0,2252.4 L345.0,2252.8 L346.0,2253.1 L347.0,2253.5 L348.0,2253.8 L349.0,2254.2 L350.0,2254.5 L351.0,2254.8 L352.0,2255.2 L353.0,2255.5 L354.0,2255.8 L355.0,2256.1 L356.0,2256.4 L357.0,2256.7 L358.0,2257.0 L359.0,2257.2 L360.0,2257.5 L361.0,2257.7 L362.0,2258.0 L363.0,2258.2 L364.0,2258.5 L365.0,2258.7 L366.0,2258.9 L367.0,2259.2 L368.0,2259.4 L369.0,2259.6 L370.0,2259.8 L371.0,2260.0 L372.0,2260.2 L373.0,2260.4 L374.0,2260.5 L375.0,2260.6 L376.0,2260.8 L377.0,2260.8 L378.0,2260.9 L379.0,2261.0 L380.0,2261.0 L381.0,2261.0 L382.0,2261.0 L383.0,2261.0 L384.0,2261.0 L385.0,2261.0 L386.0,2260.9 L387.0,2260.9 L388.0,2260.9 L389.0,2260.8 L390.0,2260.8 L391.0,2260.7 L392.0,2260.7 L393.0,2260.6 L394.0,2260.5 L395.0,2260.5 L396.0,2260.4 L397.0,2260.3 L398.0,2260.2 L399.0,2260.1 L400.0,2260.0 L401.0,2259.9 L402.0,2259.7 L403.0,2259.6 L404.0,2259.4 L405.0,2259.2 L406.0,2258.9 L407.0,2258.7 L408.0,2258.4 L409.0,2258.1 L410.0,2257.8 L411.0,2257.5 L412.0,2257.2 L413.0,2256.8 L414.0,2256.4 L415.0,2256.1 L416.0,2255.7 L417.0,2255.3 L418.0,2254.9 L419.0,2254.4 L420.0,2254.0 L421.0,2253.5 L422.0,2253.0 L423.0,2252.5 L424.0,2252.0 L425.0,2251.4 L426.0,2250.8 L427.0,2250.2 L428.0,2249.6 L429.0,2248.9 L430.0,2248.3 L431.0,2247.6 L432.0,2246.9 L433.0,2246.3 L434.0,2245.6 L435.0,2245.0 L436.0,2244.4 L437.0,2243.7 L438.0,2243.1 L439.0,2242.5 L440.0,2241.9 L441.0,2241.3 L442.0,2240.6 L443.0,2240.0 L444.0,2239.3 L445.0,2238.7 L446.0,2238.0 L447.0,2237.3 L448.0,2236.5 L449.0,2235.8 L450.0,2235.0 L451.0,2234.2 L452.0,2233.3 L453.0,2232.5 L454.0,2231.5 L455.0,2230.6 L456.0,2229.6 L457.0,2228.6 L458.0,2227.6 L459.0,2226.5 L460.0,2225.4 L461.0,2224.3 L462.0,2223.1 L463.0,2221.9 L464.0,2220.6 L465.0,2219.3 L466.0,2218.0 L467.0,2216.6 L468.0,2215.1 L469.0,2213.6 L470.0,2212.0 L471.0,2210.3 L472.0,2208.5 L473.0,2206.5 L474.0,2204.5 L475.0,2202.3 L476.0,2199.9 L477.0,2197.2 L478.0,2194.3 L479.0,2191.0 L480.0,2187.4 L481.0,2183.3 L482.0,2178.8 L483.0,2173.8 L484.0,2168.3 L485.0,2162.4 L486.0,2156.0 L487.0,2149.4 L488.0,2142.6 L489.0,2135.8 L490.0,2129.3 L491.0,2123.4 L492.0,2118.4 L493.0,2114.8 L494.0,2112.8 L495.0,2112.6 L496.0,2114.3 L497.0,2117.9 L498.0,2123.2 L499.0,2130.0 L500.0,2138.2 L501.0,2147.3 L502.0,2157.1 L503.0,2167.3 L504.0,2177.3 L505.0,2186.9 L506.0,2195.7 L507.0,2203.4 L508.0,2209.9 L509.0,2215.2 L510.0,2219.4 L511.0,2222.6 L512.0,2225.1 L513.0,2226.9 L514.0,2228.3 L515.0,2229.4 L516.0,2230.1 L517.0,2230.7 L518.0,2231.1 L519.0,2231.4 L520.0,2231.5 L521.0,2231.5 L522.0,2231.3 L523.0,2231.0 L524.0,2230.6 L525.0,2230.1 L526.0,2229.6 L527.0,2228.9 L528.0,2228.2 L529.0,2227.5 L530.0,2226.8 L531.0,2226.2 L532.0,2225.5 L533.0,2224.9 L534.0,2224.4 L535.0,2223.9 L536.0,2223.5 L537.0,2223.1 L538.0,2222.8 L539.0,2222.5 L540.0,2222.2 L541.0,2222.0 L542.0,2221.7 L543.0,2221.5 L544.0,2221.2 L545.0,2221.0 L546.0,2220.7 L547.0,2220.4 L548.0,2220.1 L549.0,2219.8 L550.0,2219.4 L551.0,2219.0 L552.0,2218.5 L553.0,2218.0 L554.0,2217.4 L555.0,2216.8 L556.0,2216.2 L557.0,2215.5 L558.0,2214.8 L559.0,2214.0 L560.0,2213.3 L561.0,2212.5 L562.0,2211.7 L563.0,2210.9 L564.0,2210.1 L565.0,2209.2 L566.0,2208.4 L567.0,2207.5 L568.0,2206.7 L569.0,2205.9 L570.0,2205.1 L571.0,2204.3 L572.0,2203.6 L573.0,2202.9 L574.0,2202.2 L575.0,2201.5 L576.0,2200.9 L577.0,2200.3 L578.0,2199.7 L579.0,2199.1 L580.0,2198.5 L581.0,2197.9 L582.0,2197.4 L583.0,2196.8 L584.0,2196.2 L585.0,2195.6 L586.0,2195.0 L587.0,2194.4 L588.0,2193.8 L589.0,2193.2 L590.0,2192.6 L591.0,2192.0 L592.0,2191.3 L593.0,2190.7 L594.0,2190.1 L595.0,2189.4 L596.0,2188.8 L597.0,2188.1 L598.0,2187.4 L599.0,2186.7 L600.0,2186.0 L601.0,2185.3 L602.0,2184.5 L603.0,2183.7 L604.0,2182.9 L605.0,2182.1 L606.0,2181.3 L607.0,2180.5 L608.0,2179.7 L609.0,2178.9 L610.0,2178.1 L611.0,2177.3 L612.0,2176.5 L613.0,2175.7 L614.0,2175.0 L615.0,2174.2 L616.0,2173.5 L617.0,2172.8 L618.0,2172.1 L619.0,2171.4 L620.0,2170.6 L621.0,2169.9 L622.0,2169.2 L623.0,2168.5 L624.0,2167.9 L625.0,2167.2 L626.0,2166.5 L627.0,2165.8 L628.0,2165.1 L629.0,2164.4 L630.0,2163.7 L631.0,2163.0 L632.0,2162.3 L633.0,2161.7 L634.0,2161.0 L635.0,2160.3 L636.0,2159.6 L637.0,2159.0 L638.0,2158.3 L639.0,2157.6 L640.0,2157.0 L641.0,2156.3 L642.0,2155.6 L643.0,2155.0 L644.0,2154.3 L645.0,2153.6 L646.0,2152.9 L647.0,2152.2 L648.0,2151.5 L649.0,2150.8 L650.0,2150.1 L651.0,2149.4 L652.0,2148.6 L653.0,2147.8 L654.0,2147.1 L655.0,2146.3 L656.0,2145.5 L657.0,2144.6 L658.0,2143.8 L659.0,2142.9 L660.0,2142.1 L661.0,2141.2 L662.0,2140.3 L663.0,2139.4 L664.0,2138.5 L665.0,2137.6 L666.0,2136.7 L667.0,2135.8 L668.0,2134.9 L669.0,2134.0 L670.0,2133.1 L671.0,2132.2 L672.0,2131.3 L673.0,2130.3 L674.0,2129.4 L675.0,2128.4 L676.0,2127.5 L677.0,2126.4 L678.0,2125.4 L679.0,2124.2 L680.0,2123.0 L681.0,2121.8 L682.0,2120.4 L683.0,2118.9 L684.0,2117.4 L685.0,2115.8 L686.0,2114.1 L687.0,2112.5 L688.0,2110.8 L689.0,2109.2 L690.0,2107.6 L691.0,2106.0 L692.0,2104.6 L693.0,2103.2 L694.0,2101.8 L695.0,2100.5 L696.0,2099.1 L697.0,2097.7 L698.0,2096.3 L699.0,2094.7 L700.0,2092.9 L701.0,2091.1 L702.0,2089.1 L703.0,2086.9 L704.0,2084.6 L705.0,2082.2 L706.0,2079.6 L707.0,2077.1 L708.0,2074.4 L709.0,2071.8 L710.0,2069.2 L711.0,2066.6 L712.0,2064.0 L713.0,2061.5 L714.0,2059.0 L715.0,2056.6 L716.0,2054.2 L717.0,2051.8 L718.0,2049.3 L719.0,2046.9 L720.0,2044.4 L721.0,2041.9 L722.0,2039.4 L723.0,2036.8 L724.0,2034.1 L725.0,2031.4 L726.0,2028.6 L727.0,2025.6 L728.0,2022.6 L729.0,2019.3 L730.0,2015.9 L731.0,2012.2 L732.0,2008.2 L733.0,2004.0 L734.0,1999.5 L735.0,1994.9 L736.0,1990.4 L737.0,1986.0 L738.0,1982.0 L739.0,1978.3 L740.0,1975.1 L741.0,1972.2 L742.0,1969.7 L743.0,1967.5 L744.0,1965.5 L745.0,1963.8 L746.0,1962.6 L747.0,1962.1 L748.0,1962.4 L749.0,1963.7 L750.0,1966.2 L751.0,1970.1 L752.0,1975.6 L753.0,1982.8 L754.0,1991.7 L755.0,2002.1 L756.0,2013.7 L757.0,2025.8 L758.0,2037.8 L759.0,2049.2 L760.0,2059.4 L761.0,2068.5 L762.0,2076.7 L763.0,2084.1 L764.0,2091.0 L765.0,2097.8 L766.0,2104.4 L767.0,2110.8 L768.0,2116.8 L769.0,2122.3 L770.0,2127.3 L771.0,2131.8 L772.0,2135.7 L773.0,2139.1 L774.0,2142.0 L775.0,2144.6 L776.0,2146.9 L777.0,2149.0 L778.0,2150.7 L779.0,2152.3 L780.0,2153.6 L781.0,2154.6 L782.0,2155.4 L783.0,2155.8 L784.0,2156.0 L785.0,2155.9 L786.0,2155.5 L787.0,2154.8 L788.0,2153.9 L789.0,2152.8 L790.0,2151.5 L791.0,2150.0 L792.0,2148.3 L793.0,2146.5 L794.0,2144.5 L795.0,2142.3 L796.0,2140.0 L797.0,2137.6 L798.0,2135.2 L799.0,2132.8 L800.0,2130.4 L801.0,2128.2 L802.0,2126.1 L803.0,2124.1 L804.0,2122.3 L805.0,2120.7 L806.0,2119.2 L807.0,2117.8 L808.0,2116.4 L809.0,2115.1 L810.0,2113.9 L811.0,2112.6 L812.0,2111.3 L813.0,2110.1 L814.0,2108.8 L815.0,2107.5 L816.0,2106.2 L817.0,2104.8 L818.0,2103.4 L819.0,2102.0 L820.0,2100.6 L821.0,2099.2 L822.0,2097.8 L823.0,2096.4 L824.0,2095.0 L825.0,2093.6 L826.0,2092.2 L827.0,2090.7 L828.0,2089.3 L829.0,2087.8 L830.0,2086.3 L831.0,2084.8 L832.0,2083.3 L833.0,2081.9 L834.0,2080.5 L835.0,2079.1 L836.0,2077.9 L837.0,2076.7 L838.0,2075.7 L839.0,2074.8 L840.0,2074.0 L841.0,2073.3 L842.0,2072.8 L843.0,2072.3 L844.0,2071.8 L845.0,2071.4 L846.0,2071.1 L847.0,2070.7 L848.0,2070.4 L849.0,2070.1 L850.0,2069.8 L851.0,2069.5 L852.0,2069.2 L853.0,2068.8 L854.0,2068.5 L855.0,2068.3 L856.0,2068.0 L857.0,2067.7 L858.0,2067.4 L859.0,2067.0 L860.0,2066.7 L861.0,2066.3 L862.0,2065.9 L863.0,2065.3 L864.0,2064.7 L865.0,2064.0 L866.0,2063.1 L867.0,2062.1 L868.0,2060.8 L869.0,2059.4 L870.0,2057.9 L871.0,2056.1 L872.0,2054.2 L873.0,2052.1 L874.0,2049.9 L875.0,2047.4 L876.0,2044.8 L877.0,2042.0 L878.0,2039.1 L879.0,2036.2 L880.0,2033.4 L881.0,2030.7 L882.0,2028.3 L883.0,2026.0 L884.0,2024.1 L885.0,2022.3 L886.0,2020.8 L887.0,2019.4 L888.0,2018.2 L889.0,2017.1 L890.0,2016.2 L891.0,2015.6 L892.0,2015.1 L893.0,2014.9 L894.0,2015.0 L895.0,2015.4 L896.0,2016.0 L897.0,2016.9 L898.0,2018.1 L899.0,2019.4 L900.0,2020.8 L901.0,2022.3 L902.0,2023.7 L903.0,2025.1 L904.0,2026.3 L905.0,2027.5 L906.0,2028.5 L907.0,2029.3 L908.0,2030.1 L909.0,2030.8 L910.0,2031.4 L911.0,2031.9 L912.0,2032.2 L913.0,2032.5 L914.0,2032.6 L915.0,2032.5 L916.0,2032.2 L917.0,2031.8 L918.0,2031.2 L919.0,2030.3 L920.0,2029.3 L921.0,2028.2 L922.0,2026.9 L923.0,2025.6 L924.0,2024.1 L925.0,2022.5 L926.0,2020.7 L927.0,2018.9 L928.0,2016.9 L929.0,2014.8 L930.0,2012.5 L931.0,2010.1 L932.0,2007.7 L933.0,2005.1 L934.0,2002.6 L935.0,2000.0 L936.0,1997.4 L937.0,1994.8 L938.0,1992.3 L939.0,1989.9 L940.0,1987.5 L941.0,1985.2 L942.0,1982.9 L943.0,1980.7 L944.0,1978.6 L945.0,1976.4 L946.0,1974.3 L947.0,1972.2 L948.0,1970.1 L949.0,1968.0 L950.0,1965.9 L951.0,1963.7 L952.0,1961.6 L953.0,1959.4 L954.0,1957.2 L955.0,1955.0 L956.0,1952.8 L957.0,1950.5 L958.0,1948.2 L959.0,1945.9 L960.0,1943.5 L961.0,1941.1 L962.0,1938.8 L963.0,1936.3 L964.0,1933.9 L965.0,1931.4 L966.0,1928.9 L967.0,1926.3 L968.0,1923.6 L969.0,1920.9 L970.0,1918.2 L971.0,1915.5 L972.0,1913.0 L973.0,1910.6 L974.0,1908.5 L975.0,1906.7 L976.0,1905.1 L977.0,1903.8 L978.0,1902.8 L979.0,1901.9 L980.0,1901.3 L981.0,1900.7 L982.0,1900.3 L983.0,1900.1 L984.0,1900.0 L985.0,1900.0 L986.0,1900.2 L987.0,1900.5 L988.0,1901.0 L989.0,1901.6 L990.0,1902.4 L991.0,1903.3 L992.0,1904.2 L993.0,1905.2 L994.0,1906.4 L995.0,1907.5 L996.0,1908.8 L997.0,1910.0 L998.0,1911.2 L999.0,1912.3 L1000.0,1913.2 L1001.0,1913.8 L1002.0,1914.0 L1003.0,1913.9 L1004.0,1913.2 L1005.0,1912.1 L1006.0,1910.5 L1007.0,1908.4 L1008.0,1906.0 L1009.0,1903.1 L1010.0,1899.8 L1011.0,1896.2 L1012.0,1892.2 L1013.0,1888.0 L1014.0,1883.7 L1015.0,1879.4 L1016.0,1875.1 L1017.0,1871.0 L1018.0,1867.1 L1019.0,1863.5 L1020.0,1860.1 L1021.0,1857.1 L1022.0,1854.6 L1023.0,1852.7 L1024.0,1851.4 L1025.0,1850.9 L1026.0,1851.2 L1027.0,1852.4 L1028.0,1854.2 L1029.0,1856.8 L1030.0,1860.0 L1031.0,1863.7 L1032.0,1867.8 L1033.0,1872.3 L1034.0,1877.1 L1035.0,1882.3 L1036.0,1887.7 L1037.0,1893.5 L1038.0,1899.6 L1039.0,1906.0 L1040.0,1912.7 L1041.0,1919.6 L1042.0,1926.7 L1043.0,1933.9 L1044.0,1940.9 L1045.0,1947.6 L1046.0,1953.9 L1047.0,1959.6 L1048.0,1964.7 L1049.0,1969.2 L1050.0,1973.2 L1051.0,1976.7 L1052.0,1979.8 L1053.0,1982.6 L1054.0,1985.2 L1055.0,1987.5 L1056.0,1989.8 L1057.0,1991.9 L1058.0,1993.9 L1059.0,1995.8 L1060.0,1997.5 L1061.0,1999.0 L1062.0,2000.3 L1063.0,2001.4 L1064.0,2002.1 L1065.0,2002.5 L1066.0,2002.5 L1067.0,2002.1 L1068.0,2001.3 L1069.0,2000.1 L1070.0,1998.5 L1071.0,1996.7 L1072.0,1994.6 L1073.0,1992.4 L1074.0,1990.2 L1075.0,1987.9 L1076.0,1985.7 L1077.0,1983.6 L1078.0,1981.5 L1079.0,1979.6 L1080.0,1977.8 L1081.0,1976.0 L1082.0,1974.3 L1083.0,1972.6 L1084.0,1970.9 L1085.0,1969.2 L1086.0,1967.5 L1087.0,1965.8 L1088.0,1964.1 L1089.0,1962.3 L1090.0,1960.5 L1091.0,1958.8 L1092.0,1957.1 L1093.0,1955.6 L1094.0,1954.2 L1095.0,1953.0 L1096.0,1952.0 L1097.0,1951.3 L1098.0,1950.8 L1099.0,1950.5 L1100.0,1950.3 L1101.0,1950.3 L1102.0,1950.3 L1103.0,1950.3 L1104.0,1950.4 L1105.0,1950.5 L1106.0,1950.5 L1107.0,1950.6 L1108.0,1950.8 L1109.0,1950.9 L1110.0,1951.0 L1111.0,1951.1 L1112.0,1951.3 L1113.0,1951.4 L1114.0,1951.6 L1115.0,1951.8 L1116.0,1951.9 L1117.0,1952.1 L1118.0,1952.2 L1119.0,1952.3 L1120.0,1952.3 L1121.0,1952.3 L1122.0,1952.1 L1123.0,1951.8 L1124.0,1951.4 L1125.0,1950.8 L1126.0,1950.1 L1127.0,1949.2 L1128.0,1948.3 L1129.0,1947.2 L1130.0,1946.2 L1131.0,1945.2 L1132.0,1944.2 L1133.0,1943.3 L1134.0,1942.4 L1135.0,1941.6 L1136.0,1940.8 L1137.0,1940.1 L1138.0,1939.4 L1139.0,1938.8 L1140.0,1938.2 L1141.0,1937.7 L1142.0,1937.2 L1143.0,1936.8 L1144.0,1936.4 L1145.0,1936.1 L1146.0,1935.8 L1147.0,1935.5 L1148.0,1935.3 L1149.0,1935.1 L1150.0,1934.9 L1151.0,1934.7 L1152.0,1934.5 L1153.0,1934.4 L1154.0,1934.2 L1155.0,1934.1 L1156.0,1934.1 L1157.0,1934.0 L1158.0,1934.0 L1159.0,1934.0 L1160.0,1934.0 L1161.0,1934.0 L1162.0,1934.1 L1163.0,1934.1 L1164.0,1934.1 L1165.0,1934.2 L1166.0,1934.1 L1167.0,1934.0 L1168.0,1933.7 L1169.0,1933.2 L1170.0,1932.4 L1171.0,1931.2 L1172.0,1929.6 L1173.0,1927.6 L1174.0,1925.3 L1175.0,1922.5 L1176.0,1919.5 L1177.0,1916.4 L1178.0,1913.0 L1179.0,1909.6 L1180.0,1906.1 L1181.0,1902.5 L1182.0,1898.9 L1183.0,1895.2 L1184.0,1891.5 L1185.0,1887.8 L1186.0,1884.2 L1187.0,1880.5 L1188.0,1876.9 L1189.0,1873.5 L1190.0,1870.1 L1191.0,1866.9 L1192.0,1863.9 L1193.0,1861.0 L1194.0,1858.4 L1195.0,1856.0 L1196.0,1853.8 L1197.0,1851.9 L1198.0,1850.3 L1199.0,1849.0 L1200.0,1848.0 L1201.0,1847.2 L1202.0,1846.7 L1203.0,1846.4 L1204.0,1846.2 L1205.0,1846.0 L1206.0,1846.0 L1207.0,1845.9 L1208.0,1845.9 L1209.0,1845.9 L1210.0,1846.0 L1211.0,1846.1 L1212.0,1846.2 L1213.0,1846.4 L1214.0,1846.6 L1215.0,1846.9 L1216.0,1847.2 L1217.0,1847.5 L1218.0,1847.9 L1219.0,1848.2 L1220.0,1848.6 L1221.0,1848.9 L1222.0,1849.2 L1223.0,1849.5 L1224.0,1849.8 L1225.0,1850.0 L1226.0,1850.2 L1227.0,1850.4 L1228.0,1850.5 L1229.0,1850.6 L1230.0,1850.7 L1231.0,1850.6 L1232.0,1850.4 L1233.0,1849.9 L1234.0,1849.3 L1235.0,1848.4 L1236.0,1847.2 L1237.0,1845.7 L1238.0,1843.9 L1239.0,1841.9 L1240.0,1839.7 L1241.0,1837.3 L1242.0,1834.6 L1243.0,1831.8 L1244.0,1828.7 L1245.0,1825.4 L1246.0,1822.0 L1247.0,1818.4 L1248.0,1814.6 L1249.0,1810.8 L1250.0,1806.9 L1251.0,1803.0 L1252.0,1799.0 L1253.0,1795.1 L1254.0,1791.0 L1255.0,1787.0 L1256.0,1782.9 L1257.0,1778.7 L1258.0,1774.6 L1259.0,1770.4 L1260.0,1766.2 L1261.0,1762.0 L1262.0,1757.8 L1263.0,1753.5 L1264.0,1749.3 L1265.0,1745.2 L1266.0,1741.0 L1267.0,1737.0 L1268.0,1733.0 L1269.0,1729.1 L1270.0,1725.3 L1271.0,1721.6 L1272.0,1718.0 L1273.0,1714.4 L1274.0,1710.9 L1275.0,1707.4 L1276.0,1704.0 L1277.0,1700.6 L1278.0,1697.2 L1279.0,1694.0 L1280.0,1690.8 L1281.0,1687.9 L1282.0,1685.1 L1283.0,1682.5 L1284.0,1680.1 L1285.0,1678.0 L1286.0,1676.3 L1287.0,1675.0 L1288.0,1674.1 L1289.0,1673.7 L1290.0,1673.9 L1291.0,1674.5 L1292.0,1675.5 L1293.0,1676.9 L1294.0,1678.6 L1295.0,1680.4 L1296.0,1682.5 L1297.0,1684.7 L1298.0,1687.0 L1299.0,1689.4 L1300.0,1692.0 L1301.0,1694.8 L1302.0,1697.8 L1303.0,1700.9 L1304.0,1704.3 L1305.0,1707.9 L1306.0,1711.7 L1307.0,1715.7 L1308.0,1719.8 L1309.0,1724.0 L1310.0,1728.2 L1311.0,1732.4 L1312.0,1736.6 L1313.0,1740.8 L1314.0,1745.0 L1315.0,1749.3 L1316.0,1753.6 L1317.0,1758.1 L1318.0,1762.8 L1319.0,1767.6 L1320.0,1772.6 L1321.0,1777.7 L1322.0,1782.9 L1323.0,1788.0 L1324.0,1793.0 L1325.0,1797.8 L1326.0,1802.3 L1327.0,1806.6 L1328.0,1810.6 L1329.0,1814.4 L1330.0,1818.0 L1331.0,1821.5 L1332.0,1825.0 L1333.0,1828.4 L1334.0,1831.9 L1335.0,1835.3 L1336.0,1838.7 L1337.0,1841.9 L1338.0,1845.0 L1339.0,1847.8 L1340.0,1850.2 L1341.0,1852.4 L1342.0,1854.2 L1343.0,1855.7 L1344.0,1857.0 L1345.0,1858.0 L1346.0,1858.9 L1347.0,1859.6 L1348.0,1860.2 L1349.0,1860.6 L1350.0,1860.9 L1351.0,1861.0 L1352.0,1861.0 L1353.0,1860.8 L1354.0,1860.5 L1355.0,1860.0 L1356.0,1859.4 L1357.0,1858.8 L1358.0,1858.0 L1359.0,1857.1 L1360.0,1856.1 L1361.0,1855.0 L1362.0,1853.7 L1363.0,1852.2 L1364.0,1850.6 L1365.0,1848.8 L1366.0,1846.8 L1367.0,1844.7 L1368.0,1842.5 L1369.0,1840.1 L1370.0,1837.6 L1371.0,1835.0 L1372.0,1832.3 L1373.0,1829.4 L1374.0,1826.5 L1375.0,1823.4 L1376.0,1820.2 L1377.0,1816.9 L1378.0,1813.4 L1379.0,1809.9 L1380.0,1806.2 L1381.0,1802.5 L1382.0,1798.6 L1383.0,1794.6 L1384.0,1790.5 L1385.0,1786.2 L1386.0,1781.8 L1387.0,1777.2 L1388.0,1772.4 L1389.0,1767.5 L1390.0,1762.4 L1391.0,1757.1 L1392.0,1751.7 L1393.0,1746.0 L1394.0,1740.1 L1395.0,1734.1 L1396.0,1727.8 L1397.0,1721.4 L1398.0,1714.8 L1399.0,1708.3 L1400.0,1701.9 L1401.0,1695.8 L1402.0,1690.3 L1403.0,1685.6 L1403.5,1683.6" fill="none" stroke="#22229c" stroke-width="4.0" stroke-linejoin="round" stroke-linecap="butt"/>
<text x="326" y="1393.5" class="ttl">β-GLU</text>
<text x="827" y="2422.5" text-anchor="middle" class="ax">Wavenumber (cm<tspan class="sup" dy="-24">-1</tspan><tspan dy="24">)</tspan></text>
<text transform="translate(71,1970.5) rotate(-90)" class="ax">ε (M<tspan class="sup" dy="-24">-1</tspan><tspan dy="24"> cm</tspan><tspan class="sup" dy="-24">-1</tspan><tspan dy="24">)</tspan></text>
</g>
</svg>
</body></html>
